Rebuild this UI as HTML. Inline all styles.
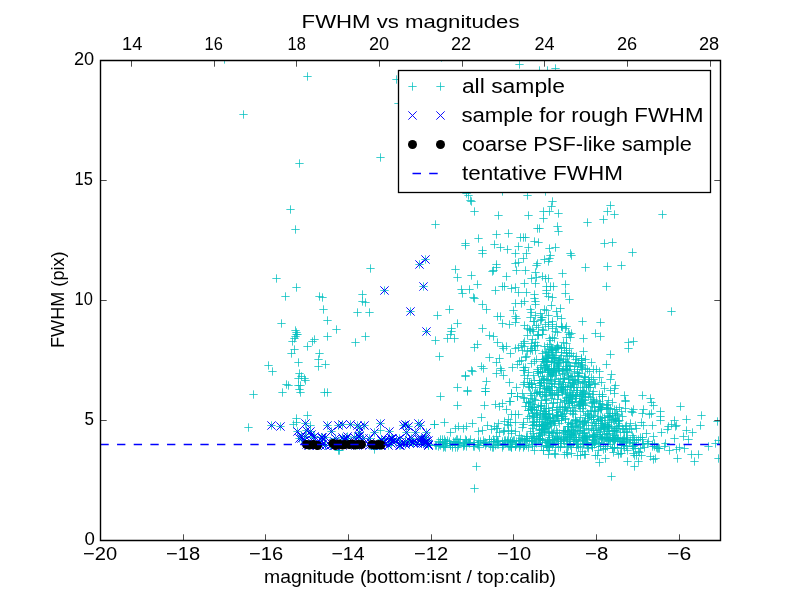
<!DOCTYPE html>
<html><head><meta charset="utf-8"><title>FWHM vs magnitudes</title><style>
html,body{margin:0;padding:0;background:#fff;width:800px;height:600px;overflow:hidden}
svg{display:block;will-change:transform}
text{font-family:"Liberation Sans",sans-serif;fill:#000}
</style></head><body>
<svg width="800" height="600" viewBox="0 0 800 600">
<rect width="800" height="600" fill="#fff"/>
<defs><clipPath id="ax"><rect x="100.5" y="60.5" width="620" height="480"/></clipPath></defs>
<g clip-path="url(#ax)">
<path d="M220.33 59.50h8.34M224.50 55.33v8.34M303.33 76.50h8.34M307.50 72.33v8.34M239.33 114.50h8.34M243.50 110.33v8.34M295.33 163.50h8.34M299.50 159.33v8.34M286.33 209.50h8.34M290.50 205.33v8.34M291.33 229.50h8.34M295.50 225.33v8.34M272.33 278.50h8.34M276.50 274.33v8.34M292.33 287.50h8.34M296.50 283.33v8.34M281.33 296.50h8.34M285.50 292.33v8.34M318.33 297.50h8.34M322.50 293.33v8.34M277.33 323.50h8.34M281.50 319.33v8.34M323.33 320.50h8.34M327.50 316.33v8.34M332.33 329.50h8.34M336.50 325.33v8.34M323.33 336.50h8.34M327.50 332.33v8.34M291.33 330.50h8.34M295.50 326.33v8.34M292.33 332.50h8.34M296.50 328.33v8.34M292.33 334.50h8.34M296.50 330.33v8.34M293.33 334.50h8.34M297.50 330.33v8.34M291.33 336.50h8.34M295.50 332.33v8.34M290.33 338.50h8.34M294.50 334.33v8.34M288.33 341.50h8.34M292.50 337.33v8.34M310.33 339.50h8.34M314.50 335.33v8.34M308.33 341.50h8.34M312.50 337.33v8.34M303.33 346.50h8.34M307.50 342.33v8.34M290.33 349.50h8.34M294.50 345.33v8.34M287.33 353.50h8.34M291.50 349.33v8.34M315.33 353.50h8.34M319.50 349.33v8.34M314.33 359.50h8.34M318.50 355.33v8.34M294.33 362.50h8.34M298.50 358.33v8.34M321.33 364.50h8.34M325.50 360.33v8.34M314.33 366.50h8.34M318.50 362.33v8.34M264.33 365.50h8.34M268.50 361.33v8.34M268.33 371.50h8.34M272.50 367.33v8.34M295.33 373.50h8.34M299.50 369.33v8.34M297.33 376.50h8.34M301.50 372.33v8.34M294.33 378.50h8.34M298.50 374.33v8.34M300.33 378.50h8.34M304.50 374.33v8.34M301.33 380.50h8.34M305.50 376.33v8.34M284.33 385.50h8.34M288.50 381.33v8.34M294.33 385.50h8.34M298.50 381.33v8.34M296.33 385.50h8.34M300.50 381.33v8.34M295.33 389.50h8.34M299.50 385.33v8.34M278.33 392.50h8.34M282.50 388.33v8.34M296.33 392.50h8.34M300.50 388.33v8.34M320.33 392.50h8.34M324.50 388.33v8.34M323.33 392.50h8.34M327.50 388.33v8.34M319.33 309.50h8.34M323.50 305.33v8.34M249.33 394.50h8.34M253.50 390.33v8.34M244.33 427.50h8.34M248.50 423.33v8.34M292.33 418.50h8.34M296.50 414.33v8.34M303.33 415.50h8.34M307.50 411.33v8.34M289.33 424.50h8.34M293.50 420.33v8.34M292.33 422.50h8.34M296.50 418.33v8.34M306.33 425.50h8.34M310.50 421.33v8.34M321.33 445.50h8.34M325.50 441.33v8.34M334.33 450.50h8.34M338.50 446.33v8.34M335.33 450.50h8.34M339.50 446.33v8.34M370.33 449.50h8.34M374.50 445.33v8.34M376.33 430.50h8.34M380.50 426.33v8.34M430.33 424.50h8.34M434.50 420.33v8.34M392.33 79.50h8.34M396.50 75.33v8.34M376.33 157.50h8.34M380.50 153.33v8.34M437.33 57.50h8.34M441.50 53.33v8.34M515.33 64.50h8.34M519.50 60.33v8.34M535.33 70.50h8.34M539.50 66.33v8.34M543.33 70.50h8.34M547.50 66.33v8.34M551.33 68.50h8.34M555.50 64.33v8.34M366.33 268.50h8.34M370.50 264.33v8.34M358.33 294.50h8.34M362.50 290.33v8.34M358.33 301.50h8.34M362.50 297.33v8.34M361.33 302.50h8.34M365.50 298.33v8.34M353.33 312.50h8.34M357.50 308.33v8.34M365.33 312.50h8.34M369.50 308.33v8.34M433.33 315.50h8.34M437.50 311.33v8.34M361.33 336.50h8.34M365.50 332.33v8.34M351.33 342.50h8.34M355.50 338.33v8.34M431.33 340.50h8.34M435.50 336.33v8.34M447.33 331.50h8.34M451.50 327.33v8.34M443.33 338.50h8.34M447.50 334.33v8.34M435.33 356.50h8.34M439.50 352.33v8.34M436.33 396.50h8.34M440.50 392.33v8.34M453.33 405.50h8.34M457.50 401.33v8.34M463.33 391.50h8.34M467.50 387.33v8.34M481.33 391.50h8.34M485.50 387.33v8.34M480.33 405.50h8.34M484.50 401.33v8.34M477.33 417.50h8.34M481.50 413.33v8.34M430.33 424.50h8.34M434.50 420.33v8.34M440.33 422.50h8.34M444.50 418.33v8.34M491.33 404.50h8.34M495.50 400.33v8.34M498.33 403.50h8.34M502.50 399.33v8.34M495.33 406.50h8.34M499.50 402.33v8.34M502.33 409.50h8.34M506.50 405.33v8.34M506.33 401.50h8.34M510.50 397.33v8.34M507.33 393.50h8.34M511.50 389.33v8.34M513.33 396.50h8.34M517.50 392.33v8.34M519.33 397.50h8.34M523.50 393.33v8.34M522.33 402.50h8.34M526.50 398.33v8.34M511.33 414.50h8.34M515.50 410.33v8.34M514.33 414.50h8.34M518.50 410.33v8.34M507.33 414.50h8.34M511.50 410.33v8.34M524.33 410.50h8.34M528.50 406.33v8.34M523.33 418.50h8.34M527.50 414.33v8.34M500.33 421.50h8.34M504.50 417.33v8.34M506.33 422.50h8.34M510.50 418.33v8.34M483.33 425.50h8.34M487.50 421.33v8.34M468.33 423.50h8.34M472.50 419.33v8.34M462.33 426.50h8.34M466.50 422.33v8.34M454.33 426.50h8.34M458.50 422.33v8.34M459.33 428.50h8.34M463.50 424.33v8.34M451.33 428.50h8.34M455.50 424.33v8.34M446.33 432.50h8.34M450.50 428.33v8.34M474.33 431.50h8.34M478.50 427.33v8.34M478.33 430.50h8.34M482.50 426.33v8.34M490.33 426.50h8.34M494.50 422.33v8.34M492.33 428.50h8.34M496.50 424.33v8.34M518.33 427.50h8.34M522.50 423.33v8.34M511.33 431.50h8.34M515.50 427.33v8.34M500.33 430.50h8.34M504.50 426.33v8.34M472.33 466.50h8.34M476.50 462.33v8.34M530.33 450.50h8.34M534.50 446.33v8.34M539.33 450.50h8.34M543.50 446.33v8.34M563.33 454.50h8.34M567.50 450.33v8.34M580.33 454.50h8.34M584.50 450.33v8.34M591.33 455.50h8.34M595.50 451.33v8.34M601.33 458.50h8.34M605.50 454.33v8.34M595.33 462.50h8.34M599.50 458.33v8.34M607.33 476.50h8.34M611.50 472.33v8.34M462.33 193.50h8.34M466.50 189.33v8.34M464.33 195.50h8.34M468.50 191.33v8.34M466.33 200.50h8.34M470.50 196.33v8.34M467.33 201.50h8.34M471.50 197.33v8.34M470.33 211.50h8.34M474.50 207.33v8.34M494.33 215.50h8.34M498.50 211.33v8.34M498.33 191.50h8.34M502.50 187.33v8.34M431.33 224.50h8.34M435.50 220.33v8.34M492.33 234.50h8.34M496.50 230.33v8.34M504.33 233.50h8.34M508.50 229.33v8.34M474.33 238.50h8.34M478.50 234.33v8.34M461.33 243.50h8.34M465.50 239.33v8.34M461.33 245.50h8.34M465.50 241.33v8.34M490.33 244.50h8.34M494.50 240.33v8.34M496.33 247.50h8.34M500.50 243.33v8.34M503.33 249.50h8.34M507.50 245.33v8.34M478.33 250.50h8.34M482.50 246.33v8.34M478.33 253.50h8.34M482.50 249.33v8.34M511.33 253.50h8.34M515.50 249.33v8.34M514.33 246.50h8.34M518.50 242.33v8.34M516.33 237.50h8.34M520.50 233.33v8.34M514.33 262.50h8.34M518.50 258.33v8.34M492.33 264.50h8.34M496.50 260.33v8.34M451.33 269.50h8.34M455.50 265.33v8.34M453.33 277.50h8.34M457.50 273.33v8.34M467.33 275.50h8.34M471.50 271.33v8.34M473.33 284.50h8.34M477.50 280.33v8.34M457.33 289.50h8.34M461.50 285.33v8.34M465.33 289.50h8.34M469.50 285.33v8.34M458.33 293.50h8.34M462.50 289.33v8.34M469.33 297.50h8.34M473.50 293.33v8.34M470.33 298.50h8.34M474.50 294.33v8.34M478.33 304.50h8.34M482.50 300.33v8.34M482.33 309.50h8.34M486.50 305.33v8.34M445.33 309.50h8.34M449.50 305.33v8.34M453.33 323.50h8.34M457.50 319.33v8.34M492.33 267.50h8.34M496.50 263.33v8.34M488.33 271.50h8.34M492.50 267.33v8.34M489.33 270.50h8.34M493.50 266.33v8.34M502.33 276.50h8.34M506.50 272.33v8.34M512.33 270.50h8.34M516.50 266.33v8.34M511.33 263.50h8.34M515.50 259.33v8.34M498.33 286.50h8.34M502.50 282.33v8.34M500.33 286.50h8.34M504.50 282.33v8.34M491.33 290.50h8.34M495.50 286.33v8.34M507.33 288.50h8.34M511.50 284.33v8.34M511.33 287.50h8.34M515.50 283.33v8.34M514.33 292.50h8.34M518.50 288.33v8.34M511.33 303.50h8.34M515.50 299.33v8.34M509.33 310.50h8.34M513.50 306.33v8.34M493.33 316.50h8.34M497.50 312.33v8.34M496.33 316.50h8.34M500.50 312.33v8.34M498.33 323.50h8.34M502.50 319.33v8.34M505.33 324.50h8.34M509.50 320.33v8.34M511.33 316.50h8.34M515.50 312.33v8.34M511.33 322.50h8.34M515.50 318.33v8.34M512.33 318.50h8.34M516.50 314.33v8.34M478.33 328.50h8.34M482.50 324.33v8.34M447.33 328.50h8.34M451.50 324.33v8.34M446.33 334.50h8.34M450.50 330.33v8.34M450.33 338.50h8.34M454.50 334.33v8.34M485.33 335.50h8.34M489.50 331.33v8.34M489.33 336.50h8.34M493.50 332.33v8.34M493.33 342.50h8.34M497.50 338.33v8.34M498.33 346.50h8.34M502.50 342.33v8.34M502.33 346.50h8.34M506.50 342.33v8.34M499.33 348.50h8.34M503.50 344.33v8.34M506.33 353.50h8.34M510.50 349.33v8.34M511.33 348.50h8.34M515.50 344.33v8.34M514.33 347.50h8.34M518.50 343.33v8.34M473.33 344.50h8.34M477.50 340.33v8.34M470.33 347.50h8.34M474.50 343.33v8.34M485.33 357.50h8.34M489.50 353.33v8.34M495.33 358.50h8.34M499.50 354.33v8.34M492.33 362.50h8.34M496.50 358.33v8.34M477.33 366.50h8.34M481.50 362.33v8.34M479.33 368.50h8.34M483.50 364.33v8.34M467.33 370.50h8.34M471.50 366.33v8.34M468.33 371.50h8.34M472.50 367.33v8.34M461.33 375.50h8.34M465.50 371.33v8.34M461.33 376.50h8.34M465.50 372.33v8.34M496.33 368.50h8.34M500.50 364.33v8.34M497.33 370.50h8.34M501.50 366.33v8.34M492.33 373.50h8.34M496.50 369.33v8.34M499.33 375.50h8.34M503.50 371.33v8.34M508.33 367.50h8.34M512.50 363.33v8.34M513.33 364.50h8.34M517.50 360.33v8.34M515.33 361.50h8.34M519.50 357.33v8.34M482.33 381.50h8.34M486.50 377.33v8.34M481.33 388.50h8.34M485.50 384.33v8.34M481.33 391.50h8.34M485.50 387.33v8.34M453.33 387.50h8.34M457.50 383.33v8.34M463.33 390.50h8.34M467.50 386.33v8.34M505.33 382.50h8.34M509.50 378.33v8.34M512.33 387.50h8.34M516.50 383.33v8.34M507.33 393.50h8.34M511.50 389.33v8.34M513.33 396.50h8.34M517.50 392.33v8.34M676.33 406.50h8.34M680.50 402.33v8.34M697.33 415.50h8.34M701.50 411.33v8.34M696.33 425.50h8.34M700.50 421.33v8.34M682.33 419.50h8.34M686.50 415.33v8.34M682.33 430.50h8.34M686.50 426.33v8.34M688.33 432.50h8.34M692.50 428.33v8.34M679.33 436.50h8.34M683.50 432.33v8.34M684.33 439.50h8.34M688.50 435.33v8.34M670.33 420.50h8.34M674.50 416.33v8.34M672.33 425.50h8.34M676.50 421.33v8.34M667.33 424.50h8.34M671.50 420.33v8.34M671.33 426.50h8.34M675.50 422.33v8.34M664.33 426.50h8.34M668.50 422.33v8.34M663.33 429.50h8.34M667.50 425.33v8.34M670.33 438.50h8.34M674.50 434.33v8.34M657.33 432.50h8.34M661.50 428.33v8.34M661.33 443.50h8.34M665.50 439.33v8.34M660.33 446.50h8.34M664.50 442.33v8.34M655.33 448.50h8.34M659.50 444.33v8.34M665.33 450.50h8.34M669.50 446.33v8.34M672.33 449.50h8.34M676.50 445.33v8.34M675.33 447.50h8.34M679.50 443.33v8.34M680.33 448.50h8.34M684.50 444.33v8.34M673.33 458.50h8.34M677.50 454.33v8.34M687.33 454.50h8.34M691.50 450.33v8.34M694.33 454.50h8.34M698.50 450.33v8.34M690.33 461.50h8.34M694.50 457.33v8.34M704.33 446.50h8.34M708.50 442.33v8.34M711.33 443.50h8.34M715.50 439.33v8.34M713.33 421.50h8.34M717.50 417.33v8.34M714.33 440.50h8.34M718.50 436.33v8.34M714.33 458.50h8.34M718.50 454.33v8.34M649.33 459.50h8.34M653.50 455.33v8.34M651.33 458.50h8.34M655.50 454.33v8.34M646.33 456.50h8.34M650.50 452.33v8.34M634.33 461.50h8.34M638.50 457.33v8.34M623.33 461.50h8.34M627.50 457.33v8.34M630.33 466.50h8.34M634.50 462.33v8.34M617.33 453.50h8.34M621.50 449.33v8.34M632.33 455.50h8.34M636.50 451.33v8.34M637.33 455.50h8.34M641.50 451.33v8.34M648.33 425.50h8.34M652.50 421.33v8.34M647.33 413.50h8.34M651.50 409.33v8.34M656.33 416.50h8.34M660.50 412.33v8.34M656.33 420.50h8.34M660.50 416.33v8.34M656.33 411.50h8.34M660.50 407.33v8.34M649.33 405.50h8.34M653.50 401.33v8.34M647.33 402.50h8.34M651.50 398.33v8.34M639.33 409.50h8.34M643.50 405.33v8.34M638.33 413.50h8.34M642.50 409.33v8.34M629.33 409.50h8.34M633.50 405.33v8.34M627.33 411.50h8.34M631.50 407.33v8.34M639.33 425.50h8.34M643.50 421.33v8.34M637.33 422.50h8.34M641.50 418.33v8.34M642.33 433.50h8.34M646.50 429.33v8.34M649.33 436.50h8.34M653.50 432.33v8.34M638.33 437.50h8.34M642.50 433.33v8.34M644.33 441.50h8.34M648.50 437.33v8.34M634.33 439.50h8.34M638.50 435.33v8.34M628.33 443.50h8.34M632.50 439.33v8.34M631.33 425.50h8.34M635.50 421.33v8.34M621.33 401.50h8.34M625.50 397.33v8.34M621.33 408.50h8.34M625.50 404.33v8.34M624.33 342.50h8.34M628.50 338.33v8.34M629.33 341.50h8.34M633.50 337.33v8.34M624.33 348.50h8.34M628.50 344.33v8.34M620.33 395.50h8.34M624.50 391.33v8.34M638.33 395.50h8.34M642.50 391.33v8.34M646.33 398.50h8.34M650.50 394.33v8.34M606.33 205.50h8.34M610.50 201.33v8.34M603.33 211.50h8.34M607.50 207.33v8.34M610.33 214.50h8.34M614.50 210.33v8.34M599.33 219.50h8.34M603.50 215.33v8.34M658.33 214.50h8.34M662.50 210.33v8.34M600.33 243.50h8.34M604.50 239.33v8.34M608.33 242.50h8.34M612.50 238.33v8.34M628.33 252.50h8.34M632.50 248.33v8.34M603.33 266.50h8.34M607.50 262.33v8.34M617.33 265.50h8.34M621.50 261.33v8.34M602.33 286.50h8.34M606.50 282.33v8.34M667.33 311.50h8.34M671.50 307.33v8.34M523.33 195.50h8.34M527.50 191.33v8.34M541.33 191.50h8.34M545.50 187.33v8.34M548.33 201.50h8.34M552.50 197.33v8.34M547.33 206.50h8.34M551.50 202.33v8.34M539.33 211.50h8.34M543.50 207.33v8.34M545.33 211.50h8.34M549.50 207.33v8.34M554.33 213.50h8.34M558.50 209.33v8.34M524.33 215.50h8.34M528.50 211.33v8.34M539.33 218.50h8.34M543.50 214.33v8.34M533.33 228.50h8.34M537.50 224.33v8.34M535.33 228.50h8.34M539.50 224.33v8.34M553.33 226.50h8.34M557.50 222.33v8.34M554.33 231.50h8.34M558.50 227.33v8.34M583.33 222.50h8.34M587.50 218.33v8.34M519.33 237.50h8.34M523.50 233.33v8.34M521.33 237.50h8.34M525.50 233.33v8.34M530.33 241.50h8.34M534.50 237.33v8.34M534.33 242.50h8.34M538.50 238.33v8.34M524.33 247.50h8.34M528.50 243.33v8.34M522.33 253.50h8.34M526.50 249.33v8.34M519.33 258.50h8.34M523.50 254.33v8.34M545.33 248.50h8.34M549.50 244.33v8.34M551.33 247.50h8.34M555.50 243.33v8.34M546.33 255.50h8.34M550.50 251.33v8.34M545.33 258.50h8.34M549.50 254.33v8.34M540.33 259.50h8.34M544.50 255.33v8.34M544.33 261.50h8.34M548.50 257.33v8.34M533.33 263.50h8.34M537.50 259.33v8.34M566.33 253.50h8.34M570.50 249.33v8.34M567.33 255.50h8.34M571.50 251.33v8.34M581.33 267.50h8.34M585.50 263.33v8.34M558.33 273.50h8.34M562.50 269.33v8.34M561.33 284.50h8.34M565.50 280.33v8.34M561.33 293.50h8.34M565.50 289.33v8.34M565.33 299.50h8.34M569.50 295.33v8.34M578.33 321.50h8.34M582.50 317.33v8.34M596.33 322.50h8.34M600.50 318.33v8.34M591.33 333.50h8.34M595.50 329.33v8.34M521.33 270.50h8.34M525.50 266.33v8.34M532.33 265.50h8.34M536.50 261.33v8.34M531.33 272.50h8.34M535.50 268.33v8.34M527.33 278.50h8.34M531.50 274.33v8.34M532.33 277.50h8.34M536.50 273.33v8.34M538.33 276.50h8.34M542.50 272.33v8.34M541.33 278.50h8.34M545.50 274.33v8.34M544.33 278.50h8.34M548.50 274.33v8.34M531.33 283.50h8.34M535.50 279.33v8.34M520.33 283.50h8.34M524.50 279.33v8.34M542.33 286.50h8.34M546.50 282.33v8.34M546.33 286.50h8.34M550.50 282.33v8.34M549.33 286.50h8.34M553.50 282.33v8.34M542.33 290.50h8.34M546.50 286.33v8.34M542.33 293.50h8.34M546.50 289.33v8.34M522.33 292.50h8.34M526.50 288.33v8.34M530.33 294.50h8.34M534.50 290.33v8.34M530.33 298.50h8.34M534.50 294.33v8.34M548.33 297.50h8.34M552.50 293.33v8.34M544.33 296.50h8.34M548.50 292.33v8.34M520.33 301.50h8.34M524.50 297.33v8.34M517.33 303.50h8.34M521.50 299.33v8.34M531.33 301.50h8.34M535.50 297.33v8.34M531.33 304.50h8.34M535.50 300.33v8.34M547.33 305.50h8.34M551.50 301.33v8.34M526.33 309.50h8.34M530.50 305.33v8.34M527.33 312.50h8.34M531.50 308.33v8.34M540.33 309.50h8.34M544.50 305.33v8.34M542.33 310.50h8.34M546.50 306.33v8.34M556.33 308.50h8.34M560.50 304.33v8.34M552.33 311.50h8.34M556.50 307.33v8.34M531.33 315.50h8.34M535.50 311.33v8.34M526.33 317.50h8.34M530.50 313.33v8.34M536.33 313.50h8.34M540.50 309.33v8.34M537.33 317.50h8.34M541.50 313.33v8.34M536.33 320.50h8.34M540.50 316.33v8.34M544.33 315.50h8.34M548.50 311.33v8.34M553.33 316.50h8.34M557.50 312.33v8.34M557.33 318.50h8.34M561.50 314.33v8.34M548.33 321.50h8.34M552.50 317.33v8.34M520.33 325.50h8.34M524.50 321.33v8.34M534.33 327.50h8.34M538.50 323.33v8.34M529.33 331.50h8.34M533.50 327.33v8.34M544.33 326.50h8.34M548.50 322.33v8.34M548.33 328.50h8.34M552.50 324.33v8.34M558.33 327.50h8.34M562.50 323.33v8.34M561.33 328.50h8.34M565.50 324.33v8.34M551.33 331.50h8.34M555.50 327.33v8.34M564.33 332.50h8.34M568.50 328.33v8.34M553.33 332.50h8.34M557.50 328.33v8.34M596.33 336.50h8.34M600.50 332.33v8.34M579.33 338.50h8.34M583.50 334.33v8.34M606.33 354.50h8.34M610.50 350.33v8.34M579.33 351.50h8.34M583.50 347.33v8.34M577.33 358.50h8.34M581.50 354.33v8.34M587.33 362.50h8.34M591.50 358.33v8.34M602.33 364.50h8.34M606.50 360.33v8.34M581.33 368.50h8.34M585.50 364.33v8.34M583.33 369.50h8.34M587.50 365.33v8.34M589.33 369.50h8.34M593.50 365.33v8.34M592.33 369.50h8.34M596.50 365.33v8.34M595.33 371.50h8.34M599.50 367.33v8.34M607.33 374.50h8.34M611.50 370.33v8.34M606.33 379.50h8.34M610.50 375.33v8.34M587.33 377.50h8.34M591.50 373.33v8.34M595.33 377.50h8.34M599.50 373.33v8.34M597.33 382.50h8.34M601.50 378.33v8.34M611.33 385.50h8.34M615.50 381.33v8.34M610.33 388.50h8.34M614.50 384.33v8.34M591.33 384.50h8.34M595.50 380.33v8.34M585.33 382.50h8.34M589.50 378.33v8.34M600.33 388.50h8.34M604.50 384.33v8.34M610.33 393.50h8.34M614.50 389.33v8.34M621.33 400.50h8.34M625.50 396.33v8.34M608.33 402.50h8.34M612.50 398.33v8.34M615.33 407.50h8.34M619.50 403.33v8.34M610.33 409.50h8.34M614.50 405.33v8.34M628.33 412.50h8.34M632.50 408.33v8.34M645.33 414.50h8.34M649.50 410.33v8.34M626.33 423.50h8.34M630.50 419.33v8.34M606.33 390.50h8.34M610.50 386.33v8.34M604.33 400.50h8.34M608.50 396.33v8.34M505.33 401.50h8.34M509.50 397.33v8.34M525.33 382.50h8.34M529.50 378.33v8.34M525.33 387.50h8.34M529.50 383.33v8.34M527.33 384.50h8.34M531.50 380.33v8.34M511.33 422.50h8.34M515.50 418.33v8.34M503.33 424.50h8.34M507.50 420.33v8.34M528.33 425.50h8.34M532.50 421.33v8.34M520.33 346.50h8.34M524.50 342.33v8.34M523.33 351.50h8.34M527.50 347.33v8.34M526.33 350.50h8.34M530.50 346.33v8.34M517.33 360.50h8.34M521.50 356.33v8.34M521.33 367.50h8.34M525.50 363.33v8.34M519.33 370.50h8.34M523.50 366.33v8.34M527.33 363.50h8.34M531.50 359.33v8.34M523.33 378.50h8.34M527.50 374.33v8.34M534.33 335.50h8.34M538.50 331.33v8.34M538.33 334.50h8.34M542.50 330.33v8.34M531.33 342.50h8.34M535.50 338.33v8.34M533.33 345.50h8.34M537.50 341.33v8.34M546.33 340.50h8.34M550.50 336.33v8.34M470.33 488.50h8.34M474.50 484.33v8.34M394.33 103.50h8.34M398.50 99.33v8.34M315.33 296.50h8.34M319.50 292.33v8.34M282.33 384.50h8.34M286.50 380.33v8.34M559.33 359.50h8.34M563.50 355.33v8.34M585.33 381.50h8.34M589.50 377.33v8.34M531.33 387.50h8.34M535.50 383.33v8.34M571.33 426.50h8.34M575.50 422.33v8.34M588.33 436.50h8.34M592.50 432.33v8.34M539.33 359.50h8.34M543.50 355.33v8.34M542.33 400.50h8.34M546.50 396.33v8.34M556.33 402.50h8.34M560.50 398.33v8.34M608.33 415.50h8.34M612.50 411.33v8.34M580.33 428.50h8.34M584.50 424.33v8.34M571.33 420.50h8.34M575.50 416.33v8.34M530.33 407.50h8.34M534.50 403.33v8.34M595.33 401.50h8.34M599.50 397.33v8.34M608.33 437.50h8.34M612.50 433.33v8.34M526.33 408.50h8.34M530.50 404.33v8.34M569.33 410.50h8.34M573.50 406.33v8.34M548.33 357.50h8.34M552.50 353.33v8.34M534.33 371.50h8.34M538.50 367.33v8.34M528.33 387.50h8.34M532.50 383.33v8.34M610.33 430.50h8.34M614.50 426.33v8.34M564.33 430.50h8.34M568.50 426.33v8.34M544.33 369.50h8.34M548.50 365.33v8.34M568.33 399.50h8.34M572.50 395.33v8.34M579.33 404.50h8.34M583.50 400.33v8.34M614.33 423.50h8.34M618.50 419.33v8.34M537.33 406.50h8.34M541.50 402.33v8.34M547.33 361.50h8.34M551.50 357.33v8.34M542.33 380.50h8.34M546.50 376.33v8.34M551.33 379.50h8.34M555.50 375.33v8.34M610.33 441.50h8.34M614.50 437.33v8.34M562.33 369.50h8.34M566.50 365.33v8.34M583.33 437.50h8.34M587.50 433.33v8.34M555.33 383.50h8.34M559.50 379.33v8.34M580.33 421.50h8.34M584.50 417.33v8.34M613.33 437.50h8.34M617.50 433.33v8.34M611.33 418.50h8.34M615.50 414.33v8.34M565.33 348.50h8.34M569.50 344.33v8.34M556.33 411.50h8.34M560.50 407.33v8.34M626.33 440.50h8.34M630.50 436.33v8.34M549.33 368.50h8.34M553.50 364.33v8.34M592.33 430.50h8.34M596.50 426.33v8.34M597.33 423.50h8.34M601.50 419.33v8.34M541.33 424.50h8.34M545.50 420.33v8.34M567.33 435.50h8.34M571.50 431.33v8.34M543.33 357.50h8.34M547.50 353.33v8.34M545.33 424.50h8.34M549.50 420.33v8.34M562.33 398.50h8.34M566.50 394.33v8.34M575.33 437.50h8.34M579.50 433.33v8.34M552.33 375.50h8.34M556.50 371.33v8.34M557.33 388.50h8.34M561.50 384.33v8.34M557.33 387.50h8.34M561.50 383.33v8.34M566.33 434.50h8.34M570.50 430.33v8.34M577.33 362.50h8.34M581.50 358.33v8.34M543.33 388.50h8.34M547.50 384.33v8.34M554.33 394.50h8.34M558.50 390.33v8.34M537.33 400.50h8.34M541.50 396.33v8.34M587.33 417.50h8.34M591.50 413.33v8.34M585.33 393.50h8.34M589.50 389.33v8.34M565.33 397.50h8.34M569.50 393.33v8.34M600.33 429.50h8.34M604.50 425.33v8.34M585.33 435.50h8.34M589.50 431.33v8.34M540.33 388.50h8.34M544.50 384.33v8.34M534.33 406.50h8.34M538.50 402.33v8.34M541.33 413.50h8.34M545.50 409.33v8.34M619.33 443.50h8.34M623.50 439.33v8.34M573.33 392.50h8.34M577.50 388.33v8.34M540.33 386.50h8.34M544.50 382.33v8.34M546.33 375.50h8.34M550.50 371.33v8.34M586.33 387.50h8.34M590.50 383.33v8.34M598.33 396.50h8.34M602.50 392.33v8.34M609.33 440.50h8.34M613.50 436.33v8.34M529.33 421.50h8.34M533.50 417.33v8.34M570.33 432.50h8.34M574.50 428.33v8.34M537.33 432.50h8.34M541.50 428.33v8.34M529.33 433.50h8.34M533.50 429.33v8.34M540.33 429.50h8.34M544.50 425.33v8.34M566.33 376.50h8.34M570.50 372.33v8.34M551.33 357.50h8.34M555.50 353.33v8.34M539.33 361.50h8.34M543.50 357.33v8.34M558.33 373.50h8.34M562.50 369.33v8.34M577.33 362.50h8.34M581.50 358.33v8.34M547.33 390.50h8.34M551.50 386.33v8.34M574.33 427.50h8.34M578.50 423.33v8.34M594.33 443.50h8.34M598.50 439.33v8.34M597.33 407.50h8.34M601.50 403.33v8.34M533.33 417.50h8.34M537.50 413.33v8.34M537.33 424.50h8.34M541.50 420.33v8.34M554.33 370.50h8.34M558.50 366.33v8.34M541.33 392.50h8.34M545.50 388.33v8.34M550.33 440.50h8.34M554.50 436.33v8.34M576.33 395.50h8.34M580.50 391.33v8.34M535.33 383.50h8.34M539.50 379.33v8.34M554.33 366.50h8.34M558.50 362.33v8.34M602.33 405.50h8.34M606.50 401.33v8.34M568.33 376.50h8.34M572.50 372.33v8.34M606.33 408.50h8.34M610.50 404.33v8.34M604.33 425.50h8.34M608.50 421.33v8.34M580.33 422.50h8.34M584.50 418.33v8.34M584.33 429.50h8.34M588.50 425.33v8.34M551.33 349.50h8.34M555.50 345.33v8.34M532.33 425.50h8.34M536.50 421.33v8.34M590.33 411.50h8.34M594.50 407.33v8.34M605.33 417.50h8.34M609.50 413.33v8.34M533.33 369.50h8.34M537.50 365.33v8.34M600.33 439.50h8.34M604.50 435.33v8.34M576.33 408.50h8.34M580.50 404.33v8.34M541.33 368.50h8.34M545.50 364.33v8.34M594.33 410.50h8.34M598.50 406.33v8.34M578.33 390.50h8.34M582.50 386.33v8.34M609.33 439.50h8.34M613.50 435.33v8.34M548.33 439.50h8.34M552.50 435.33v8.34M542.33 395.50h8.34M546.50 391.33v8.34M549.33 432.50h8.34M553.50 428.33v8.34M574.33 375.50h8.34M578.50 371.33v8.34M563.33 426.50h8.34M567.50 422.33v8.34M568.33 383.50h8.34M572.50 379.33v8.34M563.33 387.50h8.34M567.50 383.33v8.34M535.33 430.50h8.34M539.50 426.33v8.34M549.33 370.50h8.34M553.50 366.33v8.34M568.33 435.50h8.34M572.50 431.33v8.34M595.33 432.50h8.34M599.50 428.33v8.34M604.33 408.50h8.34M608.50 404.33v8.34M573.33 381.50h8.34M577.50 377.33v8.34M584.33 384.50h8.34M588.50 380.33v8.34M545.33 432.50h8.34M549.50 428.33v8.34M618.33 441.50h8.34M622.50 437.33v8.34M545.33 354.50h8.34M549.50 350.33v8.34M545.33 368.50h8.34M549.50 364.33v8.34M567.33 396.50h8.34M571.50 392.33v8.34M533.33 371.50h8.34M537.50 367.33v8.34M579.33 405.50h8.34M583.50 401.33v8.34M551.33 370.50h8.34M555.50 366.33v8.34M532.33 412.50h8.34M536.50 408.33v8.34M569.33 431.50h8.34M573.50 427.33v8.34M532.33 359.50h8.34M536.50 355.33v8.34M589.33 419.50h8.34M593.50 415.33v8.34M530.33 424.50h8.34M534.50 420.33v8.34M536.33 367.50h8.34M540.50 363.33v8.34M578.33 402.50h8.34M582.50 398.33v8.34M561.33 389.50h8.34M565.50 385.33v8.34M554.33 368.50h8.34M558.50 364.33v8.34M553.33 347.50h8.34M557.50 343.33v8.34M566.33 366.50h8.34M570.50 362.33v8.34M547.33 349.50h8.34M551.50 345.33v8.34M606.33 416.50h8.34M610.50 412.33v8.34M546.33 423.50h8.34M550.50 419.33v8.34M578.33 365.50h8.34M582.50 361.33v8.34M597.33 438.50h8.34M601.50 434.33v8.34M548.33 439.50h8.34M552.50 435.33v8.34M537.33 380.50h8.34M541.50 376.33v8.34M604.33 441.50h8.34M608.50 437.33v8.34M545.33 435.50h8.34M549.50 431.33v8.34M564.33 377.50h8.34M568.50 373.33v8.34M556.33 378.50h8.34M560.50 374.33v8.34M564.33 422.50h8.34M568.50 418.33v8.34M526.33 393.50h8.34M530.50 389.33v8.34M546.33 380.50h8.34M550.50 376.33v8.34M568.33 423.50h8.34M572.50 419.33v8.34M602.33 433.50h8.34M606.50 429.33v8.34M552.33 415.50h8.34M556.50 411.33v8.34M530.33 417.50h8.34M534.50 413.33v8.34M557.33 389.50h8.34M561.50 385.33v8.34M563.33 370.50h8.34M567.50 366.33v8.34M611.33 413.50h8.34M615.50 409.33v8.34M559.33 379.50h8.34M563.50 375.33v8.34M546.33 418.50h8.34M550.50 414.33v8.34M525.33 403.50h8.34M529.50 399.33v8.34M617.33 441.50h8.34M621.50 437.33v8.34M535.33 391.50h8.34M539.50 387.33v8.34M547.33 383.50h8.34M551.50 379.33v8.34M603.33 426.50h8.34M607.50 422.33v8.34M584.33 379.50h8.34M588.50 375.33v8.34M555.33 371.50h8.34M559.50 367.33v8.34M565.33 441.50h8.34M569.50 437.33v8.34M578.33 421.50h8.34M582.50 417.33v8.34M542.33 362.50h8.34M546.50 358.33v8.34M554.33 420.50h8.34M558.50 416.33v8.34M588.33 406.50h8.34M592.50 402.33v8.34M540.33 367.50h8.34M544.50 363.33v8.34M559.33 362.50h8.34M563.50 358.33v8.34M566.33 397.50h8.34M570.50 393.33v8.34M540.33 413.50h8.34M544.50 409.33v8.34M556.33 439.50h8.34M560.50 435.33v8.34M569.33 380.50h8.34M573.50 376.33v8.34M563.33 362.50h8.34M567.50 358.33v8.34M564.33 426.50h8.34M568.50 422.33v8.34M577.33 360.50h8.34M581.50 356.33v8.34M596.33 434.50h8.34M600.50 430.33v8.34M566.33 395.50h8.34M570.50 391.33v8.34M582.33 436.50h8.34M586.50 432.33v8.34M610.33 439.50h8.34M614.50 435.33v8.34M623.33 439.50h8.34M627.50 435.33v8.34M568.33 426.50h8.34M572.50 422.33v8.34M545.33 383.50h8.34M549.50 379.33v8.34M537.33 365.50h8.34M541.50 361.33v8.34M530.33 399.50h8.34M534.50 395.33v8.34M586.33 397.50h8.34M590.50 393.33v8.34M565.33 402.50h8.34M569.50 398.33v8.34M576.33 387.50h8.34M580.50 383.33v8.34M577.33 364.50h8.34M581.50 360.33v8.34M572.33 362.50h8.34M576.50 358.33v8.34M542.33 387.50h8.34M546.50 383.33v8.34M601.33 420.50h8.34M605.50 416.33v8.34M579.33 381.50h8.34M583.50 377.33v8.34M614.33 438.50h8.34M618.50 434.33v8.34M538.33 440.50h8.34M542.50 436.33v8.34M610.33 435.50h8.34M614.50 431.33v8.34M578.33 435.50h8.34M582.50 431.33v8.34M580.33 376.50h8.34M584.50 372.33v8.34M540.33 432.50h8.34M544.50 428.33v8.34M546.33 422.50h8.34M550.50 418.33v8.34M593.33 434.50h8.34M597.50 430.33v8.34M561.33 419.50h8.34M565.50 415.33v8.34M588.33 439.50h8.34M592.50 435.33v8.34M580.33 432.50h8.34M584.50 428.33v8.34M537.33 382.50h8.34M541.50 378.33v8.34M595.33 394.50h8.34M599.50 390.33v8.34M554.33 360.50h8.34M558.50 356.33v8.34M614.33 421.50h8.34M618.50 417.33v8.34M524.33 406.50h8.34M528.50 402.33v8.34M555.33 433.50h8.34M559.50 429.33v8.34M573.33 369.50h8.34M577.50 365.33v8.34M528.33 398.50h8.34M532.50 394.33v8.34M542.33 403.50h8.34M546.50 399.33v8.34M564.33 375.50h8.34M568.50 371.33v8.34M613.33 414.50h8.34M617.50 410.33v8.34M549.33 355.50h8.34M553.50 351.33v8.34M558.33 414.50h8.34M562.50 410.33v8.34M584.33 385.50h8.34M588.50 381.33v8.34M555.33 407.50h8.34M559.50 403.33v8.34M552.33 363.50h8.34M556.50 359.33v8.34M547.33 431.50h8.34M551.50 427.33v8.34M589.33 440.50h8.34M593.50 436.33v8.34M594.33 429.50h8.34M598.50 425.33v8.34M553.33 407.50h8.34M557.50 403.33v8.34M536.33 435.50h8.34M540.50 431.33v8.34M596.33 403.50h8.34M600.50 399.33v8.34M529.33 404.50h8.34M533.50 400.33v8.34M616.33 432.50h8.34M620.50 428.33v8.34M622.33 437.50h8.34M626.50 433.33v8.34M610.33 421.50h8.34M614.50 417.33v8.34M561.33 386.50h8.34M565.50 382.33v8.34M553.33 415.50h8.34M557.50 411.33v8.34M524.33 386.50h8.34M528.50 382.33v8.34M560.33 413.50h8.34M564.50 409.33v8.34M608.33 439.50h8.34M612.50 435.33v8.34M578.33 424.50h8.34M582.50 420.33v8.34M561.33 430.50h8.34M565.50 426.33v8.34M554.33 363.50h8.34M558.50 359.33v8.34M542.33 408.50h8.34M546.50 404.33v8.34M596.33 420.50h8.34M600.50 416.33v8.34M568.33 382.50h8.34M572.50 378.33v8.34M550.33 369.50h8.34M554.50 365.33v8.34M565.33 432.50h8.34M569.50 428.33v8.34M581.33 415.50h8.34M585.50 411.33v8.34M565.33 379.50h8.34M569.50 375.33v8.34M596.33 418.50h8.34M600.50 414.33v8.34M540.33 388.50h8.34M544.50 384.33v8.34M544.33 370.50h8.34M548.50 366.33v8.34M542.33 361.50h8.34M546.50 357.33v8.34M564.33 362.50h8.34M568.50 358.33v8.34M538.33 439.50h8.34M542.50 435.33v8.34M548.33 407.50h8.34M552.50 403.33v8.34M562.33 350.50h8.34M566.50 346.33v8.34M536.33 405.50h8.34M540.50 401.33v8.34M583.33 418.50h8.34M587.50 414.33v8.34M601.33 427.50h8.34M605.50 423.33v8.34M561.33 407.50h8.34M565.50 403.33v8.34M605.33 413.50h8.34M609.50 409.33v8.34M567.33 387.50h8.34M571.50 383.33v8.34M598.33 437.50h8.34M602.50 433.33v8.34M580.33 440.50h8.34M584.50 436.33v8.34M546.33 420.50h8.34M550.50 416.33v8.34M531.33 400.50h8.34M535.50 396.33v8.34M581.33 405.50h8.34M585.50 401.33v8.34M569.33 439.50h8.34M573.50 435.33v8.34M573.33 422.50h8.34M577.50 418.33v8.34M562.33 352.50h8.34M566.50 348.33v8.34M568.33 413.50h8.34M572.50 409.33v8.34M552.33 416.50h8.34M556.50 412.33v8.34M547.33 423.50h8.34M551.50 419.33v8.34M541.33 417.50h8.34M545.50 413.33v8.34M575.33 404.50h8.34M579.50 400.33v8.34M565.33 403.50h8.34M569.50 399.33v8.34M573.33 373.50h8.34M577.50 369.33v8.34M563.33 370.50h8.34M567.50 366.33v8.34M525.33 416.50h8.34M529.50 412.33v8.34M553.33 392.50h8.34M557.50 388.33v8.34M627.33 429.50h8.34M631.50 425.33v8.34M540.33 425.50h8.34M544.50 421.33v8.34M549.33 421.50h8.34M553.50 417.33v8.34M539.33 429.50h8.34M543.50 425.33v8.34M596.33 428.50h8.34M600.50 424.33v8.34M541.33 411.50h8.34M545.50 407.33v8.34M569.33 430.50h8.34M573.50 426.33v8.34M549.33 358.50h8.34M553.50 354.33v8.34M571.33 359.50h8.34M575.50 355.33v8.34M587.33 428.50h8.34M591.50 424.33v8.34M571.33 396.50h8.34M575.50 392.33v8.34M566.33 385.50h8.34M570.50 381.33v8.34M596.33 407.50h8.34M600.50 403.33v8.34M592.33 439.50h8.34M596.50 435.33v8.34M579.33 391.50h8.34M583.50 387.33v8.34M597.33 408.50h8.34M601.50 404.33v8.34M559.33 390.50h8.34M563.50 386.33v8.34M544.33 388.50h8.34M548.50 384.33v8.34M570.33 371.50h8.34M574.50 367.33v8.34M592.33 423.50h8.34M596.50 419.33v8.34M553.33 399.50h8.34M557.50 395.33v8.34M533.33 413.50h8.34M537.50 409.33v8.34M597.33 420.50h8.34M601.50 416.33v8.34M588.33 403.50h8.34M592.50 399.33v8.34M545.33 344.50h8.34M549.50 340.33v8.34M609.33 420.50h8.34M613.50 416.33v8.34M556.33 387.50h8.34M560.50 383.33v8.34M596.33 436.50h8.34M600.50 432.33v8.34M590.33 435.50h8.34M594.50 431.33v8.34M567.33 353.50h8.34M571.50 349.33v8.34M532.33 414.50h8.34M536.50 410.33v8.34M535.33 429.50h8.34M539.50 425.33v8.34M529.33 416.50h8.34M533.50 412.33v8.34M584.33 414.50h8.34M588.50 410.33v8.34M552.33 438.50h8.34M556.50 434.33v8.34M528.33 407.50h8.34M532.50 403.33v8.34M561.33 418.50h8.34M565.50 414.33v8.34M560.33 401.50h8.34M564.50 397.33v8.34M538.33 424.50h8.34M542.50 420.33v8.34M571.33 420.50h8.34M575.50 416.33v8.34M597.33 427.50h8.34M601.50 423.33v8.34M567.33 433.50h8.34M571.50 429.33v8.34M589.33 430.50h8.34M593.50 426.33v8.34M572.33 398.50h8.34M576.50 394.33v8.34M532.33 422.50h8.34M536.50 418.33v8.34M611.33 419.50h8.34M615.50 415.33v8.34M557.33 352.50h8.34M561.50 348.33v8.34M548.33 417.50h8.34M552.50 413.33v8.34M587.33 411.50h8.34M591.50 407.33v8.34M553.33 415.50h8.34M557.50 411.33v8.34M535.33 421.50h8.34M539.50 417.33v8.34M589.33 430.50h8.34M593.50 426.33v8.34M576.33 403.50h8.34M580.50 399.33v8.34M542.33 414.50h8.34M546.50 410.33v8.34M568.33 395.50h8.34M572.50 391.33v8.34M537.33 405.50h8.34M541.50 401.33v8.34M611.33 438.50h8.34M615.50 434.33v8.34M547.33 362.50h8.34M551.50 358.33v8.34M576.33 430.50h8.34M580.50 426.33v8.34M538.33 440.50h8.34M542.50 436.33v8.34M591.33 436.50h8.34M595.50 432.33v8.34M581.33 359.50h8.34M585.50 355.33v8.34M548.33 350.50h8.34M552.50 346.33v8.34M620.33 432.50h8.34M624.50 428.33v8.34M602.33 409.50h8.34M606.50 405.33v8.34M603.33 434.50h8.34M607.50 430.33v8.34M589.33 419.50h8.34M593.50 415.33v8.34M550.33 357.50h8.34M554.50 353.33v8.34M550.33 358.50h8.34M554.50 354.33v8.34M553.33 432.50h8.34M557.50 428.33v8.34M546.33 390.50h8.34M550.50 386.33v8.34M574.33 376.50h8.34M578.50 372.33v8.34M548.33 348.50h8.34M552.50 344.33v8.34M540.33 431.50h8.34M544.50 427.33v8.34M543.33 369.50h8.34M547.50 365.33v8.34M540.33 396.50h8.34M544.50 392.33v8.34M543.33 441.50h8.34M547.50 437.33v8.34M575.33 373.50h8.34M579.50 369.33v8.34M570.33 441.50h8.34M574.50 437.33v8.34M536.33 372.50h8.34M540.50 368.33v8.34M547.33 386.50h8.34M551.50 382.33v8.34M544.33 418.50h8.34M548.50 414.33v8.34M588.33 394.50h8.34M592.50 390.33v8.34M591.33 411.50h8.34M595.50 407.33v8.34M546.33 349.50h8.34M550.50 345.33v8.34M613.33 428.50h8.34M617.50 424.33v8.34M544.33 426.50h8.34M548.50 422.33v8.34M568.33 402.50h8.34M572.50 398.33v8.34M575.33 396.50h8.34M579.50 392.33v8.34M608.33 431.50h8.34M612.50 427.33v8.34M571.33 419.50h8.34M575.50 415.33v8.34M578.33 396.50h8.34M582.50 392.33v8.34M544.33 358.50h8.34M548.50 354.33v8.34M524.33 402.50h8.34M528.50 398.33v8.34M577.33 394.50h8.34M581.50 390.33v8.34M563.33 356.50h8.34M567.50 352.33v8.34M541.33 399.50h8.34M545.50 395.33v8.34M609.33 437.50h8.34M613.50 433.33v8.34M567.33 434.50h8.34M571.50 430.33v8.34M543.33 379.50h8.34M547.50 375.33v8.34M611.33 430.50h8.34M615.50 426.33v8.34M538.33 394.50h8.34M542.50 390.33v8.34M550.33 384.50h8.34M554.50 380.33v8.34M572.33 394.50h8.34M576.50 390.33v8.34M610.33 430.50h8.34M614.50 426.33v8.34M580.33 433.50h8.34M584.50 429.33v8.34M582.33 386.50h8.34M586.50 382.33v8.34M560.33 409.50h8.34M564.50 405.33v8.34M552.33 390.50h8.34M556.50 386.33v8.34M538.33 359.50h8.34M542.50 355.33v8.34M559.33 369.50h8.34M563.50 365.33v8.34M586.33 410.50h8.34M590.50 406.33v8.34M571.33 396.50h8.34M575.50 392.33v8.34M558.33 370.50h8.34M562.50 366.33v8.34M568.33 401.50h8.34M572.50 397.33v8.34M581.33 397.50h8.34M585.50 393.33v8.34M557.33 420.50h8.34M561.50 416.33v8.34M527.33 383.50h8.34M531.50 379.33v8.34M542.33 366.50h8.34M546.50 362.33v8.34M539.33 379.50h8.34M543.50 375.33v8.34M591.33 425.50h8.34M595.50 421.33v8.34M603.33 415.50h8.34M607.50 411.33v8.34M608.33 413.50h8.34M612.50 409.33v8.34M574.33 437.50h8.34M578.50 433.33v8.34M605.33 428.50h8.34M609.50 424.33v8.34M572.33 387.50h8.34M576.50 383.33v8.34M564.33 399.50h8.34M568.50 395.33v8.34M604.33 427.50h8.34M608.50 423.33v8.34M547.33 376.50h8.34M551.50 372.33v8.34M615.33 425.50h8.34M619.50 421.33v8.34M571.33 433.50h8.34M575.50 429.33v8.34M589.33 391.50h8.34M593.50 387.33v8.34M578.33 441.50h8.34M582.50 437.33v8.34M558.33 406.50h8.34M562.50 402.33v8.34M598.33 396.50h8.34M602.50 392.33v8.34M562.33 397.50h8.34M566.50 393.33v8.34M574.33 405.50h8.34M578.50 401.33v8.34M582.33 425.50h8.34M586.50 421.33v8.34M613.33 439.50h8.34M617.50 435.33v8.34M538.33 372.50h8.34M542.50 368.33v8.34M542.33 360.50h8.34M546.50 356.33v8.34M562.33 440.50h8.34M566.50 436.33v8.34M567.33 423.50h8.34M571.50 419.33v8.34M577.33 401.50h8.34M581.50 397.33v8.34M578.33 440.50h8.34M582.50 436.33v8.34M538.33 359.50h8.34M542.50 355.33v8.34M530.33 361.50h8.34M534.50 357.33v8.34M590.33 423.50h8.34M594.50 419.33v8.34M548.33 373.50h8.34M552.50 369.33v8.34M578.33 383.50h8.34M582.50 379.33v8.34M582.33 439.50h8.34M586.50 435.33v8.34M557.33 347.50h8.34M561.50 343.33v8.34M559.33 430.50h8.34M563.50 426.33v8.34M581.33 438.50h8.34M585.50 434.33v8.34M550.33 381.50h8.34M554.50 377.33v8.34M552.33 430.50h8.34M556.50 426.33v8.34M550.33 362.50h8.34M554.50 358.33v8.34M580.33 382.50h8.34M584.50 378.33v8.34M537.33 426.50h8.34M541.50 422.33v8.34M545.33 372.50h8.34M549.50 368.33v8.34M544.33 414.50h8.34M548.50 410.33v8.34M572.33 425.50h8.34M576.50 421.33v8.34M557.33 418.50h8.34M561.50 414.33v8.34M545.33 437.50h8.34M549.50 433.33v8.34M572.33 356.50h8.34M576.50 352.33v8.34M562.33 368.50h8.34M566.50 364.33v8.34M578.33 400.50h8.34M582.50 396.33v8.34M563.33 408.50h8.34M567.50 404.33v8.34M569.33 356.50h8.34M573.50 352.33v8.34M562.33 410.50h8.34M566.50 406.33v8.34M563.33 394.50h8.34M567.50 390.33v8.34M561.33 369.50h8.34M565.50 365.33v8.34M559.33 382.50h8.34M563.50 378.33v8.34M619.33 429.50h8.34M623.50 425.33v8.34M527.33 409.50h8.34M531.50 405.33v8.34M568.33 407.50h8.34M572.50 403.33v8.34M537.33 430.50h8.34M541.50 426.33v8.34M541.33 365.50h8.34M545.50 361.33v8.34M571.33 411.50h8.34M575.50 407.33v8.34M612.33 420.50h8.34M616.50 416.33v8.34M539.33 425.50h8.34M543.50 421.33v8.34M603.33 426.50h8.34M607.50 422.33v8.34M600.33 424.50h8.34M604.50 420.33v8.34M528.33 413.50h8.34M532.50 409.33v8.34M598.33 425.50h8.34M602.50 421.33v8.34M530.33 380.50h8.34M534.50 376.33v8.34M557.33 355.50h8.34M561.50 351.33v8.34M547.33 368.50h8.34M551.50 364.33v8.34M559.33 432.50h8.34M563.50 428.33v8.34M555.33 423.50h8.34M559.50 419.33v8.34M540.33 408.50h8.34M544.50 404.33v8.34M607.33 426.50h8.34M611.50 422.33v8.34M565.33 365.50h8.34M569.50 361.33v8.34M545.33 413.50h8.34M549.50 409.33v8.34M558.33 391.50h8.34M562.50 387.33v8.34M538.33 414.50h8.34M542.50 410.33v8.34M535.33 392.50h8.34M539.50 388.33v8.34M589.33 434.50h8.34M593.50 430.33v8.34M556.33 358.50h8.34M560.50 354.33v8.34M549.33 403.50h8.34M553.50 399.33v8.34M545.33 418.50h8.34M549.50 414.33v8.34M561.33 361.50h8.34M565.50 357.33v8.34M560.33 400.50h8.34M564.50 396.33v8.34M547.33 347.50h8.34M551.50 343.33v8.34M617.33 411.50h8.34M621.50 407.33v8.34M578.33 394.50h8.34M582.50 390.33v8.34M572.33 439.50h8.34M576.50 435.33v8.34M571.33 363.50h8.34M575.50 359.33v8.34M614.33 426.50h8.34M618.50 422.33v8.34M552.33 409.50h8.34M556.50 405.33v8.34M558.33 384.50h8.34M562.50 380.33v8.34M554.33 387.50h8.34M558.50 383.33v8.34M544.33 355.50h8.34M548.50 351.33v8.34M620.33 438.50h8.34M624.50 434.33v8.34M595.33 406.50h8.34M599.50 402.33v8.34M563.33 431.50h8.34M567.50 427.33v8.34M532.33 410.50h8.34M536.50 406.33v8.34M566.33 395.50h8.34M570.50 391.33v8.34M540.33 361.50h8.34M544.50 357.33v8.34M537.33 429.50h8.34M541.50 425.33v8.34M577.33 401.50h8.34M581.50 397.33v8.34M536.33 394.50h8.34M540.50 390.33v8.34M562.33 353.50h8.34M566.50 349.33v8.34M583.33 413.50h8.34M587.50 409.33v8.34M535.33 426.50h8.34M539.50 422.33v8.34M554.33 381.50h8.34M558.50 377.33v8.34M547.33 372.50h8.34M551.50 368.33v8.34M623.33 432.50h8.34M627.50 428.33v8.34M559.33 416.50h8.34M563.50 412.33v8.34M538.33 376.50h8.34M542.50 372.33v8.34M588.33 425.50h8.34M592.50 421.33v8.34M548.33 386.50h8.34M552.50 382.33v8.34M538.33 424.50h8.34M542.50 420.33v8.34M554.33 412.50h8.34M558.50 408.33v8.34M598.33 423.50h8.34M602.50 419.33v8.34M555.33 359.50h8.34M559.50 355.33v8.34M543.33 422.50h8.34M547.50 418.33v8.34M577.33 358.50h8.34M581.50 354.33v8.34M535.33 380.50h8.34M539.50 376.33v8.34M539.33 380.50h8.34M543.50 376.33v8.34M570.33 379.50h8.34M574.50 375.33v8.34M552.33 348.50h8.34M556.50 344.33v8.34M554.33 395.50h8.34M558.50 391.33v8.34M581.33 437.50h8.34M585.50 433.33v8.34M587.33 417.50h8.34M591.50 413.33v8.34M590.33 407.50h8.34M594.50 403.33v8.34M612.33 428.50h8.34M616.50 424.33v8.34M557.33 416.50h8.34M561.50 412.33v8.34M585.33 384.50h8.34M589.50 380.33v8.34M556.33 441.50h8.34M560.50 437.33v8.34M550.33 368.50h8.34M554.50 364.33v8.34M570.33 387.50h8.34M574.50 383.33v8.34M542.33 352.50h8.34M546.50 348.33v8.34M583.33 443.50h8.34M587.50 439.33v8.34M573.33 430.50h8.34M577.50 426.33v8.34M554.33 348.50h8.34M558.50 344.33v8.34M562.33 362.50h8.34M566.50 358.33v8.34M601.33 437.50h8.34M605.50 433.33v8.34M609.33 430.50h8.34M613.50 426.33v8.34M548.33 395.50h8.34M552.50 391.33v8.34M558.33 416.50h8.34M562.50 412.33v8.34M536.33 385.50h8.34M540.50 381.33v8.34M558.33 392.50h8.34M562.50 388.33v8.34M589.33 415.50h8.34M593.50 411.33v8.34M542.33 358.50h8.34M546.50 354.33v8.34M577.33 401.50h8.34M581.50 397.33v8.34M600.33 417.50h8.34M604.50 413.33v8.34M604.33 440.50h8.34M608.50 436.33v8.34M580.33 436.50h8.34M584.50 432.33v8.34M575.33 406.50h8.34M579.50 402.33v8.34M530.33 393.50h8.34M534.50 389.33v8.34M541.33 358.50h8.34M545.50 354.33v8.34M543.33 346.50h8.34M547.50 342.33v8.34M563.33 434.50h8.34M567.50 430.33v8.34M527.33 409.50h8.34M531.50 405.33v8.34M526.33 401.50h8.34M530.50 397.33v8.34M549.33 371.50h8.34M553.50 367.33v8.34M550.33 362.50h8.34M554.50 358.33v8.34M557.33 443.50h8.34M561.50 439.33v8.34M543.33 427.50h8.34M547.50 423.33v8.34M603.33 426.50h8.34M607.50 422.33v8.34M578.33 433.50h8.34M582.50 429.33v8.34M582.33 387.50h8.34M586.50 383.33v8.34M544.33 433.50h8.34M548.50 429.33v8.34M615.33 441.50h8.34M619.50 437.33v8.34M544.33 439.50h8.34M548.50 435.33v8.34M543.33 417.50h8.34M547.50 413.33v8.34M560.33 430.50h8.34M564.50 426.33v8.34M550.33 421.50h8.34M554.50 417.33v8.34M577.33 367.50h8.34M581.50 363.33v8.34M561.33 431.50h8.34M565.50 427.33v8.34M542.33 389.50h8.34M546.50 385.33v8.34M539.33 416.50h8.34M543.50 412.33v8.34M565.33 392.50h8.34M569.50 388.33v8.34M551.33 436.50h8.34M555.50 432.33v8.34M554.33 362.50h8.34M558.50 358.33v8.34M527.33 395.50h8.34M531.50 391.33v8.34M562.33 343.50h8.34M566.50 339.33v8.34M579.33 393.50h8.34M583.50 389.33v8.34M560.33 378.50h8.34M564.50 374.33v8.34M564.33 382.50h8.34M568.50 378.33v8.34M589.33 437.50h8.34M593.50 433.33v8.34M565.33 369.50h8.34M569.50 365.33v8.34M614.33 420.50h8.34M618.50 416.33v8.34M590.33 402.50h8.34M594.50 398.33v8.34M528.33 415.50h8.34M532.50 411.33v8.34M588.33 444.50h8.34M592.50 440.33v8.34M579.33 403.50h8.34M583.50 399.33v8.34M592.33 400.50h8.34M596.50 396.33v8.34M548.33 433.50h8.34M552.50 429.33v8.34M580.33 392.50h8.34M584.50 388.33v8.34M581.33 394.50h8.34M585.50 390.33v8.34M539.33 425.50h8.34M543.50 421.33v8.34M612.33 431.50h8.34M616.50 427.33v8.34M566.33 424.50h8.34M570.50 420.33v8.34M544.33 370.50h8.34M548.50 366.33v8.34M566.33 439.50h8.34M570.50 435.33v8.34M575.33 421.50h8.34M579.50 417.33v8.34M578.33 369.50h8.34M582.50 365.33v8.34M545.33 390.50h8.34M549.50 386.33v8.34M560.33 348.50h8.34M564.50 344.33v8.34M600.33 428.50h8.34M604.50 424.33v8.34M574.33 363.50h8.34M578.50 359.33v8.34M571.33 398.50h8.34M575.50 394.33v8.34M569.33 390.50h8.34M573.50 386.33v8.34M565.33 403.50h8.34M569.50 399.33v8.34M589.33 379.50h8.34M593.50 375.33v8.34M518.33 393.50h8.34M522.50 389.33v8.34M575.33 431.50h8.34M579.50 427.33v8.34M581.33 420.50h8.34M585.50 416.33v8.34M618.33 416.50h8.34M622.50 412.33v8.34M528.33 422.50h8.34M532.50 418.33v8.34M524.33 402.50h8.34M528.50 398.33v8.34M521.33 406.50h8.34M525.50 402.33v8.34M569.33 384.50h8.34M573.50 380.33v8.34M552.33 352.50h8.34M556.50 348.33v8.34M585.33 371.50h8.34M589.50 367.33v8.34M541.33 324.50h8.34M545.50 320.33v8.34M574.33 379.50h8.34M578.50 375.33v8.34M521.33 357.50h8.34M525.50 353.33v8.34M551.33 421.50h8.34M555.50 417.33v8.34M570.33 437.50h8.34M574.50 433.33v8.34M524.33 372.50h8.34M528.50 368.33v8.34M603.33 404.50h8.34M607.50 400.33v8.34M532.33 325.50h8.34M536.50 321.33v8.34M570.33 405.50h8.34M574.50 401.33v8.34M530.33 407.50h8.34M534.50 403.33v8.34M553.33 346.50h8.34M557.50 342.33v8.34M619.33 442.50h8.34M623.50 438.33v8.34M567.33 401.50h8.34M571.50 397.33v8.34M529.33 375.50h8.34M533.50 371.33v8.34M639.33 443.50h8.34M643.50 439.33v8.34M555.33 360.50h8.34M559.50 356.33v8.34M576.33 426.50h8.34M580.50 422.33v8.34M528.33 339.50h8.34M532.50 335.33v8.34M590.33 444.50h8.34M594.50 440.33v8.34M560.33 378.50h8.34M564.50 374.33v8.34M540.33 418.50h8.34M544.50 414.33v8.34M585.33 416.50h8.34M589.50 412.33v8.34M525.33 384.50h8.34M529.50 380.33v8.34M533.33 392.50h8.34M537.50 388.33v8.34M536.33 440.50h8.34M540.50 436.33v8.34M538.33 329.50h8.34M542.50 325.33v8.34M584.33 387.50h8.34M588.50 383.33v8.34M536.33 385.50h8.34M540.50 381.33v8.34M543.33 370.50h8.34M547.50 366.33v8.34M542.33 428.50h8.34M546.50 424.33v8.34M576.33 417.50h8.34M580.50 413.33v8.34M548.33 414.50h8.34M552.50 410.33v8.34M519.33 367.50h8.34M523.50 363.33v8.34M593.33 416.50h8.34M597.50 412.33v8.34M550.33 394.50h8.34M554.50 390.33v8.34M598.33 404.50h8.34M602.50 400.33v8.34M548.33 410.50h8.34M552.50 406.33v8.34M562.33 337.50h8.34M566.50 333.33v8.34M565.33 441.50h8.34M569.50 437.33v8.34M580.33 377.50h8.34M584.50 373.33v8.34M546.33 394.50h8.34M550.50 390.33v8.34M528.33 409.50h8.34M532.50 405.33v8.34M628.33 435.50h8.34M632.50 431.33v8.34M550.33 425.50h8.34M554.50 421.33v8.34M579.33 430.50h8.34M583.50 426.33v8.34M569.33 414.50h8.34M573.50 410.33v8.34M599.33 426.50h8.34M603.50 422.33v8.34M557.33 347.50h8.34M561.50 343.33v8.34M528.33 350.50h8.34M532.50 346.33v8.34M605.33 422.50h8.34M609.50 418.33v8.34M544.33 352.50h8.34M548.50 348.33v8.34M541.33 428.50h8.34M545.50 424.33v8.34M571.33 380.50h8.34M575.50 376.33v8.34M535.33 438.50h8.34M539.50 434.33v8.34M553.33 364.50h8.34M557.50 360.33v8.34M569.33 434.50h8.34M573.50 430.33v8.34M520.33 398.50h8.34M524.50 394.33v8.34M562.33 400.50h8.34M566.50 396.33v8.34M587.33 402.50h8.34M591.50 398.33v8.34M569.33 443.50h8.34M573.50 439.33v8.34M579.33 411.50h8.34M583.50 407.33v8.34M565.33 334.50h8.34M569.50 330.33v8.34M535.33 392.50h8.34M539.50 388.33v8.34M566.33 411.50h8.34M570.50 407.33v8.34M565.33 437.50h8.34M569.50 433.33v8.34M548.33 337.50h8.34M552.50 333.33v8.34M537.33 382.50h8.34M541.50 378.33v8.34M557.33 326.50h8.34M561.50 322.33v8.34M543.33 356.50h8.34M547.50 352.33v8.34M560.33 374.50h8.34M564.50 370.33v8.34M570.33 366.50h8.34M574.50 362.33v8.34M538.33 434.50h8.34M542.50 430.33v8.34M598.33 417.50h8.34M602.50 413.33v8.34M589.33 401.50h8.34M593.50 397.33v8.34M562.33 434.50h8.34M566.50 430.33v8.34M563.33 438.50h8.34M567.50 434.33v8.34M527.33 384.50h8.34M531.50 380.33v8.34M572.33 421.50h8.34M576.50 417.33v8.34M597.33 438.50h8.34M601.50 434.33v8.34M562.33 366.50h8.34M566.50 362.33v8.34M538.33 428.50h8.34M542.50 424.33v8.34M605.33 433.50h8.34M609.50 429.33v8.34M520.33 370.50h8.34M524.50 366.33v8.34M568.33 394.50h8.34M572.50 390.33v8.34M621.33 426.50h8.34M625.50 422.33v8.34M632.33 428.50h8.34M636.50 424.33v8.34M604.33 431.50h8.34M608.50 427.33v8.34M548.33 324.50h8.34M552.50 320.33v8.34M553.33 345.50h8.34M557.50 341.33v8.34M605.33 440.50h8.34M609.50 436.33v8.34M538.33 353.50h8.34M542.50 349.33v8.34M594.33 421.50h8.34M598.50 417.33v8.34M530.33 345.50h8.34M534.50 341.33v8.34M561.33 393.50h8.34M565.50 389.33v8.34M546.33 422.50h8.34M550.50 418.33v8.34M520.33 382.50h8.34M524.50 378.33v8.34M596.33 409.50h8.34M600.50 405.33v8.34M584.33 396.50h8.34M588.50 392.33v8.34M575.33 402.50h8.34M579.50 398.33v8.34M559.33 342.50h8.34M563.50 338.33v8.34M539.33 411.50h8.34M543.50 407.33v8.34M544.33 408.50h8.34M548.50 404.33v8.34M594.33 406.50h8.34M598.50 402.33v8.34M612.33 409.50h8.34M616.50 405.33v8.34M553.33 365.50h8.34M557.50 361.33v8.34M519.33 343.50h8.34M523.50 339.33v8.34M534.33 334.50h8.34M538.50 330.33v8.34M582.33 442.50h8.34M586.50 438.33v8.34M579.33 423.50h8.34M583.50 419.33v8.34M590.33 383.50h8.34M594.50 379.33v8.34M612.33 437.50h8.34M616.50 433.33v8.34M622.33 425.50h8.34M626.50 421.33v8.34M545.33 392.50h8.34M549.50 388.33v8.34M522.33 356.50h8.34M526.50 352.33v8.34M580.33 400.50h8.34M584.50 396.33v8.34M532.33 393.50h8.34M536.50 389.33v8.34M573.33 390.50h8.34M577.50 386.33v8.34M576.33 366.50h8.34M580.50 362.33v8.34M547.33 398.50h8.34M551.50 394.33v8.34M535.33 433.50h8.34M539.50 429.33v8.34M548.33 445.50h8.34M552.50 441.33v8.34M615.33 420.50h8.34M619.50 416.33v8.34M528.33 329.50h8.34M532.50 325.33v8.34M523.33 328.50h8.34M527.50 324.33v8.34M549.33 402.50h8.34M553.50 398.33v8.34M537.33 319.50h8.34M541.50 315.33v8.34M543.33 422.50h8.34M547.50 418.33v8.34M536.33 415.50h8.34M540.50 411.33v8.34M584.33 422.50h8.34M588.50 418.33v8.34M594.33 419.50h8.34M598.50 415.33v8.34M562.33 326.50h8.34M566.50 322.33v8.34M565.33 355.50h8.34M569.50 351.33v8.34M595.33 442.50h8.34M599.50 438.33v8.34M526.33 330.50h8.34M530.50 326.33v8.34M581.33 377.50h8.34M585.50 373.33v8.34M600.33 431.50h8.34M604.50 427.33v8.34M599.33 427.50h8.34M603.50 423.33v8.34M536.33 438.50h8.34M540.50 434.33v8.34M548.33 357.50h8.34M552.50 353.33v8.34M534.33 373.50h8.34M538.50 369.33v8.34M625.33 442.50h8.34M629.50 438.33v8.34M552.33 370.50h8.34M556.50 366.33v8.34M629.33 437.50h8.34M633.50 433.33v8.34M618.33 428.50h8.34M622.50 424.33v8.34M529.33 425.50h8.34M533.50 421.33v8.34M566.33 386.50h8.34M570.50 382.33v8.34M579.33 399.50h8.34M583.50 395.33v8.34M567.33 429.50h8.34M571.50 425.33v8.34M527.33 348.50h8.34M531.50 344.33v8.34M517.33 345.50h8.34M521.50 341.33v8.34M538.33 371.50h8.34M542.50 367.33v8.34M613.33 415.50h8.34M617.50 411.33v8.34M548.33 350.50h8.34M552.50 346.33v8.34M589.33 399.50h8.34M593.50 395.33v8.34M557.33 326.50h8.34M561.50 322.33v8.34M566.33 337.50h8.34M570.50 333.33v8.34M553.33 416.50h8.34M557.50 412.33v8.34M555.33 368.50h8.34M559.50 364.33v8.34M520.33 341.50h8.34M524.50 337.33v8.34M539.33 330.50h8.34M543.50 326.33v8.34M552.33 326.50h8.34M556.50 322.33v8.34M531.33 442.50h8.34M535.50 438.33v8.34M535.33 419.50h8.34M539.50 415.33v8.34M549.33 420.50h8.34M553.50 416.33v8.34M540.33 346.50h8.34M544.50 342.33v8.34M603.33 424.50h8.34M607.50 420.33v8.34M578.33 408.50h8.34M582.50 404.33v8.34M548.33 374.50h8.34M552.50 370.33v8.34M567.33 376.50h8.34M571.50 372.33v8.34M527.33 343.50h8.34M531.50 339.33v8.34M630.33 439.50h8.34M634.50 435.33v8.34M550.33 338.50h8.34M554.50 334.33v8.34M531.33 350.50h8.34M535.50 346.33v8.34M577.33 360.50h8.34M581.50 356.33v8.34M567.33 333.50h8.34M571.50 329.33v8.34M538.33 317.50h8.34M542.50 313.33v8.34M520.33 375.50h8.34M524.50 371.33v8.34M544.33 379.50h8.34M548.50 375.33v8.34M541.33 419.50h8.34M545.50 415.33v8.34M548.33 393.50h8.34M552.50 389.33v8.34M544.33 322.50h8.34M548.50 318.33v8.34M536.33 410.50h8.34M540.50 406.33v8.34M576.33 404.50h8.34M580.50 400.33v8.34M540.33 378.50h8.34M544.50 374.33v8.34M579.33 443.50h8.34M583.50 439.33v8.34M545.33 441.50h8.34M549.50 437.33v8.34M564.33 403.50h8.34M568.50 399.33v8.34M542.33 423.50h8.34M546.50 419.33v8.34M546.33 374.50h8.34M550.50 370.33v8.34M541.33 351.50h8.34M545.50 347.33v8.34M533.33 335.50h8.34M537.50 331.33v8.34M545.33 338.50h8.34M549.50 334.33v8.34M567.33 427.50h8.34M571.50 423.33v8.34M530.33 321.50h8.34M534.50 317.33v8.34M574.33 382.50h8.34M578.50 378.33v8.34M530.33 346.50h8.34M534.50 342.33v8.34M622.33 431.50h8.34M626.50 427.33v8.34M526.33 431.50h8.34M530.50 427.33v8.34M543.33 364.50h8.34M547.50 360.33v8.34M524.33 410.50h8.34M528.50 406.33v8.34M607.33 419.50h8.34M611.50 415.33v8.34M603.33 407.50h8.34M607.50 403.33v8.34M549.33 372.50h8.34M553.50 368.33v8.34M572.33 439.50h8.34M576.50 435.33v8.34M604.33 416.50h8.34M608.50 412.33v8.34M547.33 352.50h8.34M551.50 348.33v8.34M573.33 372.50h8.34M577.50 368.33v8.34M561.33 407.50h8.34M565.50 403.33v8.34M565.33 436.50h8.34M569.50 432.33v8.34M598.33 394.50h8.34M602.50 390.33v8.34M542.33 416.50h8.34M546.50 412.33v8.34M625.33 428.50h8.34M629.50 424.33v8.34M519.33 384.50h8.34M523.50 380.33v8.34M529.33 321.50h8.34M533.50 317.33v8.34M518.33 350.50h8.34M522.50 346.33v8.34M534.33 436.50h8.34M538.50 432.33v8.34M559.33 386.50h8.34M563.50 382.33v8.34M525.33 329.50h8.34M529.50 325.33v8.34M597.33 409.50h8.34M601.50 405.33v8.34M523.33 335.50h8.34M527.50 331.33v8.34M498.33 441.50h8.34M502.50 437.33v8.34M506.33 446.50h8.34M510.50 442.33v8.34M439.33 444.50h8.34M443.50 440.33v8.34M448.33 445.50h8.34M452.50 441.33v8.34M507.33 446.50h8.34M511.50 442.33v8.34M452.33 439.50h8.34M456.50 435.33v8.34M493.33 444.50h8.34M497.50 440.33v8.34M443.33 440.50h8.34M447.50 436.33v8.34M485.33 439.50h8.34M489.50 435.33v8.34M490.33 441.50h8.34M494.50 437.33v8.34M454.33 442.50h8.34M458.50 438.33v8.34M481.33 445.50h8.34M485.50 441.33v8.34M432.33 445.50h8.34M436.50 441.33v8.34M451.33 441.50h8.34M455.50 437.33v8.34M491.33 445.50h8.34M495.50 441.33v8.34M489.33 447.50h8.34M493.50 443.33v8.34M449.33 441.50h8.34M453.50 437.33v8.34M493.33 441.50h8.34M497.50 437.33v8.34M445.33 441.50h8.34M449.50 437.33v8.34M504.33 446.50h8.34M508.50 442.33v8.34M498.33 447.50h8.34M502.50 443.33v8.34M506.33 441.50h8.34M510.50 437.33v8.34M460.33 445.50h8.34M464.50 441.33v8.34M435.33 444.50h8.34M439.50 440.33v8.34M438.33 439.50h8.34M442.50 435.33v8.34M479.33 440.50h8.34M483.50 436.33v8.34M519.33 446.50h8.34M523.50 442.33v8.34M474.33 440.50h8.34M478.50 436.33v8.34M441.33 443.50h8.34M445.50 439.33v8.34M480.33 442.50h8.34M484.50 438.33v8.34M498.33 443.50h8.34M502.50 439.33v8.34M504.33 439.50h8.34M508.50 435.33v8.34M436.33 442.50h8.34M440.50 438.33v8.34M476.33 441.50h8.34M480.50 437.33v8.34M494.33 441.50h8.34M498.50 437.33v8.34M460.33 443.50h8.34M464.50 439.33v8.34M498.33 445.50h8.34M502.50 441.33v8.34M465.33 443.50h8.34M469.50 439.33v8.34M519.33 447.50h8.34M523.50 443.33v8.34M489.33 439.50h8.34M493.50 435.33v8.34M473.33 444.50h8.34M477.50 440.33v8.34M456.33 439.50h8.34M460.50 435.33v8.34M524.33 447.50h8.34M528.50 443.33v8.34M442.33 443.50h8.34M446.50 439.33v8.34M489.33 441.50h8.34M493.50 437.33v8.34M436.33 445.50h8.34M440.50 441.33v8.34M503.33 442.50h8.34M507.50 438.33v8.34M438.33 442.50h8.34M442.50 438.33v8.34M439.33 447.50h8.34M443.50 443.33v8.34M434.33 441.50h8.34M438.50 437.33v8.34M503.33 440.50h8.34M507.50 436.33v8.34M440.33 439.50h8.34M444.50 435.33v8.34M445.33 443.50h8.34M449.50 439.33v8.34M509.33 440.50h8.34M513.50 436.33v8.34M446.33 445.50h8.34M450.50 441.33v8.34M470.33 442.50h8.34M474.50 438.33v8.34M441.33 441.50h8.34M445.50 437.33v8.34M523.33 440.50h8.34M527.50 436.33v8.34M454.33 445.50h8.34M458.50 441.33v8.34M515.33 447.50h8.34M519.50 443.33v8.34M475.33 447.50h8.34M479.50 443.33v8.34M487.33 441.50h8.34M491.50 437.33v8.34M474.33 445.50h8.34M478.50 441.33v8.34M500.33 440.50h8.34M504.50 436.33v8.34M448.33 447.50h8.34M452.50 443.33v8.34M440.33 446.50h8.34M444.50 442.33v8.34M462.33 441.50h8.34M466.50 437.33v8.34M454.33 443.50h8.34M458.50 439.33v8.34M525.33 440.50h8.34M529.50 436.33v8.34M512.33 441.50h8.34M516.50 437.33v8.34M446.33 445.50h8.34M450.50 441.33v8.34M462.33 440.50h8.34M466.50 436.33v8.34M470.33 446.50h8.34M474.50 442.33v8.34M512.33 444.50h8.34M516.50 440.33v8.34M431.33 445.50h8.34M435.50 441.33v8.34M488.33 447.50h8.34M492.50 443.33v8.34M521.33 441.50h8.34M525.50 437.33v8.34M511.33 446.50h8.34M515.50 442.33v8.34M455.33 442.50h8.34M459.50 438.33v8.34M465.33 442.50h8.34M469.50 438.33v8.34M466.33 439.50h8.34M470.50 435.33v8.34M451.33 447.50h8.34M455.50 443.33v8.34M469.33 444.50h8.34M473.50 440.33v8.34M515.33 445.50h8.34M519.50 441.33v8.34M453.33 447.50h8.34M457.50 443.33v8.34M507.33 447.50h8.34M511.50 443.33v8.34M499.33 445.50h8.34M503.50 441.33v8.34M508.33 441.50h8.34M512.50 437.33v8.34M492.33 442.50h8.34M496.50 438.33v8.34M510.33 440.50h8.34M514.50 436.33v8.34M481.33 442.50h8.34M485.50 438.33v8.34M508.33 442.50h8.34M512.50 438.33v8.34M511.33 446.50h8.34M515.50 442.33v8.34M514.33 440.50h8.34M518.50 436.33v8.34M520.33 445.50h8.34M524.50 441.33v8.34M494.33 444.50h8.34M498.50 440.33v8.34M434.33 446.50h8.34M438.50 442.33v8.34M482.33 443.50h8.34M486.50 439.33v8.34M462.33 446.50h8.34M466.50 442.33v8.34M505.33 446.50h8.34M509.50 442.33v8.34M450.33 442.50h8.34M454.50 438.33v8.34M453.33 439.50h8.34M457.50 435.33v8.34M461.33 439.50h8.34M465.50 435.33v8.34M506.33 441.50h8.34M510.50 437.33v8.34M436.33 439.50h8.34M440.50 435.33v8.34M501.33 440.50h8.34M505.50 436.33v8.34M474.33 442.50h8.34M478.50 438.33v8.34M507.33 447.50h8.34M511.50 443.33v8.34M459.33 444.50h8.34M463.50 440.33v8.34M515.33 443.50h8.34M519.50 439.33v8.34M516.33 445.50h8.34M520.50 441.33v8.34M459.33 446.50h8.34M463.50 442.33v8.34M485.33 439.50h8.34M489.50 435.33v8.34M486.33 446.50h8.34M490.50 442.33v8.34M479.33 443.50h8.34M483.50 439.33v8.34M469.33 446.50h8.34M473.50 442.33v8.34M493.33 440.50h8.34M497.50 436.33v8.34M464.33 442.50h8.34M468.50 438.33v8.34M522.33 445.50h8.34M526.50 441.33v8.34M441.33 447.50h8.34M445.50 443.33v8.34M487.33 429.50h8.34M491.50 425.33v8.34M504.33 431.50h8.34M508.50 427.33v8.34M504.33 419.50h8.34M508.50 415.33v8.34M507.33 433.50h8.34M511.50 429.33v8.34M519.33 424.50h8.34M523.50 420.33v8.34M495.33 432.50h8.34M499.50 428.33v8.34M519.33 422.50h8.34M523.50 418.33v8.34M523.33 436.50h8.34M527.50 432.33v8.34M504.33 425.50h8.34M508.50 421.33v8.34M515.33 435.50h8.34M519.50 431.33v8.34M494.33 423.50h8.34M498.50 419.33v8.34M499.33 431.50h8.34M503.50 427.33v8.34M493.33 428.50h8.34M497.50 424.33v8.34M507.33 430.50h8.34M511.50 426.33v8.34M492.33 436.50h8.34M496.50 432.33v8.34M528.33 428.50h8.34M532.50 424.33v8.34M579.33 438.50h8.34M583.50 434.33v8.34M588.33 442.50h8.34M592.50 438.33v8.34M576.33 446.50h8.34M580.50 442.33v8.34M544.33 447.50h8.34M548.50 443.33v8.34M532.33 436.50h8.34M536.50 432.33v8.34M556.33 446.50h8.34M560.50 442.33v8.34M588.33 447.50h8.34M592.50 443.33v8.34M556.33 447.50h8.34M560.50 443.33v8.34M560.33 437.50h8.34M564.50 433.33v8.34M566.33 445.50h8.34M570.50 441.33v8.34M549.33 443.50h8.34M553.50 439.33v8.34M536.33 439.50h8.34M540.50 435.33v8.34M549.33 442.50h8.34M553.50 438.33v8.34M553.33 437.50h8.34M557.50 433.33v8.34M516.33 440.50h8.34M520.50 436.33v8.34M573.33 444.50h8.34M577.50 440.33v8.34M534.33 439.50h8.34M538.50 435.33v8.34M557.33 438.50h8.34M561.50 434.33v8.34M564.33 446.50h8.34M568.50 442.33v8.34M532.33 443.50h8.34M536.50 439.33v8.34M573.33 444.50h8.34M577.50 440.33v8.34M572.33 444.50h8.34M576.50 440.33v8.34M537.33 446.50h8.34M541.50 442.33v8.34M590.33 436.50h8.34M594.50 432.33v8.34M591.33 441.50h8.34M595.50 437.33v8.34M522.33 436.50h8.34M526.50 432.33v8.34M579.33 444.50h8.34M583.50 440.33v8.34M527.33 441.50h8.34M531.50 437.33v8.34M567.33 447.50h8.34M571.50 443.33v8.34M542.33 445.50h8.34M546.50 441.33v8.34M535.33 438.50h8.34M539.50 434.33v8.34M528.33 440.50h8.34M532.50 436.33v8.34M565.33 439.50h8.34M569.50 435.33v8.34M528.33 438.50h8.34M532.50 434.33v8.34M522.33 438.50h8.34M526.50 434.33v8.34M541.33 442.50h8.34M545.50 438.33v8.34M530.33 441.50h8.34M534.50 437.33v8.34M551.33 447.50h8.34M555.50 443.33v8.34M554.33 447.50h8.34M558.50 443.33v8.34M553.33 438.50h8.34M557.50 434.33v8.34M563.33 437.50h8.34M567.50 433.33v8.34M529.33 436.50h8.34M533.50 432.33v8.34M572.33 447.50h8.34M576.50 443.33v8.34M548.33 440.50h8.34M552.50 436.33v8.34M550.33 440.50h8.34M554.50 436.33v8.34M571.33 440.50h8.34M575.50 436.33v8.34M528.33 446.50h8.34M532.50 442.33v8.34M561.33 436.50h8.34M565.50 432.33v8.34M583.33 444.50h8.34M587.50 440.33v8.34M544.33 443.50h8.34M548.50 439.33v8.34M589.33 440.50h8.34M593.50 436.33v8.34M550.33 439.50h8.34M554.50 435.33v8.34M560.33 443.50h8.34M564.50 439.33v8.34M574.33 447.50h8.34M578.50 443.33v8.34M527.33 440.50h8.34M531.50 436.33v8.34M584.33 445.50h8.34M588.50 441.33v8.34M563.33 444.50h8.34M567.50 440.33v8.34M543.33 447.50h8.34M547.50 443.33v8.34M559.33 440.50h8.34M563.50 436.33v8.34M530.33 437.50h8.34M534.50 433.33v8.34M587.33 445.50h8.34M591.50 441.33v8.34M518.33 439.50h8.34M522.50 435.33v8.34M554.33 441.50h8.34M558.50 437.33v8.34M545.33 446.50h8.34M549.50 442.33v8.34M543.33 442.50h8.34M547.50 438.33v8.34M590.33 443.50h8.34M594.50 439.33v8.34M554.33 439.50h8.34M558.50 435.33v8.34M546.33 443.50h8.34M550.50 439.33v8.34M578.33 439.50h8.34M582.50 435.33v8.34M545.33 440.50h8.34M549.50 436.33v8.34M545.33 446.50h8.34M549.50 442.33v8.34M559.33 439.50h8.34M563.50 435.33v8.34M542.33 445.50h8.34M546.50 441.33v8.34M528.33 444.50h8.34M532.50 440.33v8.34M517.33 438.50h8.34M521.50 434.33v8.34M520.33 445.50h8.34M524.50 441.33v8.34M527.33 438.50h8.34M531.50 434.33v8.34M520.33 439.50h8.34M524.50 435.33v8.34M574.33 444.50h8.34M578.50 440.33v8.34M588.33 447.50h8.34M592.50 443.33v8.34M629.33 448.50h8.34M633.50 444.33v8.34M601.33 448.50h8.34M605.50 444.33v8.34M622.33 439.50h8.34M626.50 435.33v8.34M640.33 447.50h8.34M644.50 443.33v8.34M619.33 438.50h8.34M623.50 434.33v8.34M648.33 446.50h8.34M652.50 442.33v8.34M631.33 448.50h8.34M635.50 444.33v8.34M598.33 437.50h8.34M602.50 433.33v8.34M603.33 437.50h8.34M607.50 433.33v8.34M638.33 444.50h8.34M642.50 440.33v8.34M602.33 438.50h8.34M606.50 434.33v8.34M606.33 444.50h8.34M610.50 440.33v8.34M636.33 448.50h8.34M640.50 444.33v8.34M617.33 448.50h8.34M621.50 444.33v8.34M622.33 441.50h8.34M626.50 437.33v8.34M611.33 439.50h8.34M615.50 435.33v8.34M654.33 448.50h8.34M658.50 444.33v8.34M638.33 439.50h8.34M642.50 435.33v8.34M606.33 438.50h8.34M610.50 434.33v8.34M617.33 445.50h8.34M621.50 441.33v8.34M599.33 443.50h8.34M603.50 439.33v8.34M636.33 437.50h8.34M640.50 433.33v8.34M622.33 446.50h8.34M626.50 442.33v8.34M630.33 442.50h8.34M634.50 438.33v8.34M648.33 444.50h8.34M652.50 440.33v8.34M616.33 441.50h8.34M620.50 437.33v8.34M652.33 447.50h8.34M656.50 443.33v8.34M650.33 443.50h8.34M654.50 439.33v8.34M604.33 439.50h8.34M608.50 435.33v8.34M619.33 445.50h8.34M623.50 441.33v8.34M596.33 446.50h8.34M600.50 442.33v8.34M643.33 443.50h8.34M647.50 439.33v8.34M596.33 446.50h8.34M600.50 442.33v8.34M620.33 445.50h8.34M624.50 441.33v8.34M630.33 445.50h8.34M634.50 441.33v8.34M620.33 448.50h8.34M624.50 444.33v8.34M653.33 448.50h8.34M657.50 444.33v8.34M632.33 440.50h8.34M636.50 436.33v8.34M618.33 440.50h8.34M622.50 436.33v8.34M650.33 446.50h8.34M654.50 442.33v8.34M614.33 454.50h8.34M618.50 450.33v8.34M635.33 452.50h8.34M639.50 448.33v8.34M567.33 453.50h8.34M571.50 449.33v8.34M562.33 452.50h8.34M566.50 448.33v8.34M551.33 454.50h8.34M555.50 450.33v8.34M584.33 448.50h8.34M588.50 444.33v8.34M628.33 446.50h8.34M632.50 442.33v8.34M629.33 453.50h8.34M633.50 449.33v8.34M550.33 453.50h8.34M554.50 449.33v8.34M593.33 455.50h8.34M597.50 451.33v8.34M594.33 450.50h8.34M598.50 446.33v8.34M629.33 446.50h8.34M633.50 442.33v8.34M613.33 447.50h8.34M617.50 443.33v8.34M563.33 447.50h8.34M567.50 443.33v8.34M623.33 450.50h8.34M627.50 446.33v8.34M608.33 448.50h8.34M612.50 444.33v8.34M609.33 452.50h8.34M613.50 448.33v8.34M545.33 450.50h8.34M549.50 446.33v8.34M608.33 448.50h8.34M612.50 444.33v8.34M601.33 448.50h8.34M605.50 444.33v8.34M573.33 455.50h8.34M577.50 451.33v8.34M630.33 455.50h8.34M634.50 451.33v8.34M578.33 451.50h8.34M582.50 447.33v8.34M616.33 453.50h8.34M620.50 449.33v8.34M581.33 454.50h8.34M585.50 450.33v8.34M576.33 455.50h8.34M580.50 451.33v8.34M583.33 447.50h8.34M587.50 443.33v8.34M610.33 447.50h8.34M614.50 443.33v8.34M603.33 446.50h8.34M607.50 442.33v8.34M634.33 451.50h8.34M638.50 447.33v8.34M610.33 447.50h8.34M614.50 443.33v8.34M599.33 449.50h8.34M603.50 445.33v8.34M560.33 454.50h8.34M564.50 450.33v8.34M539.33 450.50h8.34M543.50 446.33v8.34M544.33 454.50h8.34M548.50 450.33v8.34M267.33 425.50h8.34M271.50 421.33v8.34M276.33 426.50h8.34M280.50 422.33v8.34M301.33 423.50h8.34M305.50 419.33v8.34M293.33 431.50h8.34M297.50 427.33v8.34M295.33 438.50h8.34M299.50 434.33v8.34M302.33 430.50h8.34M306.50 426.33v8.34M306.33 431.50h8.34M310.50 427.33v8.34M307.33 434.50h8.34M311.50 430.33v8.34M310.33 436.50h8.34M314.50 432.33v8.34M323.33 425.50h8.34M327.50 421.33v8.34M327.33 431.50h8.34M331.50 427.33v8.34M321.33 437.50h8.34M325.50 433.33v8.34M317.33 440.50h8.34M321.50 436.33v8.34M334.33 425.50h8.34M338.50 421.33v8.34M338.33 424.50h8.34M342.50 420.33v8.34M346.33 424.50h8.34M350.50 420.33v8.34M353.33 425.50h8.34M357.50 421.33v8.34M355.33 427.50h8.34M359.50 423.33v8.34M360.33 425.50h8.34M364.50 421.33v8.34M355.33 432.50h8.34M359.50 428.33v8.34M370.33 432.50h8.34M374.50 428.33v8.34M376.33 423.50h8.34M380.50 419.33v8.34M385.33 431.50h8.34M389.50 427.33v8.34M401.33 424.50h8.34M405.50 420.33v8.34M399.33 425.50h8.34M403.50 421.33v8.34M404.33 426.50h8.34M408.50 422.33v8.34M414.33 423.50h8.34M418.50 419.33v8.34M416.33 425.50h8.34M420.50 421.33v8.34M422.33 432.50h8.34M426.50 428.33v8.34M411.33 432.50h8.34M415.50 428.33v8.34M402.33 432.50h8.34M406.50 428.33v8.34M380.33 290.50h8.34M384.50 286.33v8.34M421.33 259.50h8.34M425.50 255.33v8.34M415.33 264.50h8.34M419.50 260.33v8.34M419.33 286.50h8.34M423.50 282.33v8.34M406.33 311.50h8.34M410.50 307.33v8.34M422.33 331.50h8.34M426.50 327.33v8.34M421.33 437.50h8.34M425.50 433.33v8.34M401.33 441.50h8.34M405.50 437.33v8.34M413.33 443.50h8.34M417.50 439.33v8.34M395.33 445.50h8.34M399.50 441.33v8.34M388.33 438.50h8.34M392.50 434.33v8.34M417.33 438.50h8.34M421.50 434.33v8.34M388.33 441.50h8.34M392.50 437.33v8.34M395.33 438.50h8.34M399.50 434.33v8.34M422.33 441.50h8.34M426.50 437.33v8.34M416.33 439.50h8.34M420.50 435.33v8.34M421.33 439.50h8.34M425.50 435.33v8.34M421.33 442.50h8.34M425.50 438.33v8.34M424.33 444.50h8.34M428.50 440.33v8.34M409.33 442.50h8.34M413.50 438.33v8.34M419.33 441.50h8.34M423.50 437.33v8.34M384.33 445.50h8.34M388.50 441.33v8.34M417.33 443.50h8.34M421.50 439.33v8.34M414.33 439.50h8.34M418.50 435.33v8.34M401.33 444.50h8.34M405.50 440.33v8.34M424.33 445.50h8.34M428.50 441.33v8.34M387.33 443.50h8.34M391.50 439.33v8.34M405.33 440.50h8.34M409.50 436.33v8.34M387.33 438.50h8.34M391.50 434.33v8.34M401.33 441.50h8.34M405.50 437.33v8.34M392.33 440.50h8.34M396.50 436.33v8.34M405.33 443.50h8.34M409.50 439.33v8.34M407.33 438.50h8.34M411.50 434.33v8.34M420.33 440.50h8.34M424.50 436.33v8.34M424.33 445.50h8.34M428.50 441.33v8.34M386.33 442.50h8.34M390.50 438.33v8.34M424.33 440.50h8.34M428.50 436.33v8.34M405.33 440.50h8.34M409.50 436.33v8.34M381.33 439.50h8.34M385.50 435.33v8.34M385.33 439.50h8.34M389.50 435.33v8.34M408.33 442.50h8.34M412.50 438.33v8.34M423.33 443.50h8.34M427.50 439.33v8.34M396.33 445.50h8.34M400.50 441.33v8.34M409.33 442.50h8.34M413.50 438.33v8.34M419.33 443.50h8.34M423.50 439.33v8.34M396.33 442.50h8.34M400.50 438.33v8.34M321.33 445.50h8.34M325.50 441.33v8.34M316.33 445.50h8.34M320.50 441.33v8.34M301.33 436.50h8.34M305.50 432.33v8.34M342.33 438.50h8.34M346.50 434.33v8.34M338.33 437.50h8.34M342.50 433.33v8.34M366.33 442.50h8.34M370.50 438.33v8.34M353.33 445.50h8.34M357.50 441.33v8.34M379.33 442.50h8.34M383.50 438.33v8.34M355.33 436.50h8.34M359.50 432.33v8.34M300.33 440.50h8.34M304.50 436.33v8.34M377.33 439.50h8.34M381.50 435.33v8.34M343.33 436.50h8.34M347.50 432.33v8.34M330.33 445.50h8.34M334.50 441.33v8.34M345.33 444.50h8.34M349.50 440.33v8.34M297.33 438.50h8.34M301.50 434.33v8.34M311.33 444.50h8.34M315.50 440.33v8.34M304.33 445.50h8.34M308.50 441.33v8.34M318.33 444.50h8.34M322.50 440.33v8.34M339.33 439.50h8.34M343.50 435.33v8.34M377.33 440.50h8.34M381.50 436.33v8.34M354.33 436.50h8.34M358.50 432.33v8.34M365.33 445.50h8.34M369.50 441.33v8.34M305.33 443.50h8.34M309.50 439.33v8.34M318.33 437.50h8.34M322.50 433.33v8.34M326.33 442.50h8.34M330.50 438.33v8.34M376.33 445.50h8.34M380.50 441.33v8.34M379.33 442.50h8.34M383.50 438.33v8.34M350.33 437.50h8.34M354.50 433.33v8.34M356.33 441.50h8.34M360.50 437.33v8.34M326.33 445.50h8.34M330.50 441.33v8.34M317.33 437.50h8.34M321.50 433.33v8.34M309.33 437.50h8.34M313.50 433.33v8.34M345.33 444.50h8.34M349.50 440.33v8.34M309.33 441.50h8.34M313.50 437.33v8.34M344.33 441.50h8.34M348.50 437.33v8.34M330.33 441.50h8.34M334.50 437.33v8.34M297.33 436.50h8.34M301.50 432.33v8.34M331.33 438.50h8.34M335.50 434.33v8.34M359.33 438.50h8.34M363.50 434.33v8.34M365.33 438.50h8.34M369.50 434.33v8.34M302.33 444.50h8.34M306.50 440.33v8.34M305.33 445.50h8.34M309.50 441.33v8.34M309.33 444.50h8.34M313.50 440.33v8.34M313.33 445.50h8.34M317.50 441.33v8.34M329.33 443.50h8.34M333.50 439.33v8.34M331.33 445.50h8.34M335.50 441.33v8.34M335.33 444.50h8.34M339.50 440.33v8.34M338.33 445.50h8.34M342.50 441.33v8.34M341.33 444.50h8.34M345.50 440.33v8.34M345.33 444.50h8.34M349.50 440.33v8.34M348.33 444.50h8.34M352.50 440.33v8.34M351.33 445.50h8.34M355.50 441.33v8.34M354.33 444.50h8.34M358.50 440.33v8.34M357.33 444.50h8.34M361.50 440.33v8.34M368.33 444.50h8.34M372.50 440.33v8.34M371.33 445.50h8.34M375.50 441.33v8.34M374.33 444.50h8.34M378.50 440.33v8.34M377.33 445.50h8.34M381.50 441.33v8.34" stroke="#00bfbf" stroke-width="0.75" fill="none"/>
<path d="M267.33 421.33l8.34 8.34M267.33 429.67l8.34 -8.34M276.33 422.33l8.34 8.34M276.33 430.67l8.34 -8.34M301.33 419.33l8.34 8.34M301.33 427.67l8.34 -8.34M293.33 427.33l8.34 8.34M293.33 435.67l8.34 -8.34M295.33 434.33l8.34 8.34M295.33 442.67l8.34 -8.34M302.33 426.33l8.34 8.34M302.33 434.67l8.34 -8.34M306.33 427.33l8.34 8.34M306.33 435.67l8.34 -8.34M307.33 430.33l8.34 8.34M307.33 438.67l8.34 -8.34M310.33 432.33l8.34 8.34M310.33 440.67l8.34 -8.34M323.33 421.33l8.34 8.34M323.33 429.67l8.34 -8.34M327.33 427.33l8.34 8.34M327.33 435.67l8.34 -8.34M321.33 433.33l8.34 8.34M321.33 441.67l8.34 -8.34M317.33 436.33l8.34 8.34M317.33 444.67l8.34 -8.34M334.33 421.33l8.34 8.34M334.33 429.67l8.34 -8.34M338.33 420.33l8.34 8.34M338.33 428.67l8.34 -8.34M346.33 420.33l8.34 8.34M346.33 428.67l8.34 -8.34M353.33 421.33l8.34 8.34M353.33 429.67l8.34 -8.34M355.33 423.33l8.34 8.34M355.33 431.67l8.34 -8.34M360.33 421.33l8.34 8.34M360.33 429.67l8.34 -8.34M355.33 428.33l8.34 8.34M355.33 436.67l8.34 -8.34M370.33 428.33l8.34 8.34M370.33 436.67l8.34 -8.34M376.33 419.33l8.34 8.34M376.33 427.67l8.34 -8.34M385.33 427.33l8.34 8.34M385.33 435.67l8.34 -8.34M401.33 420.33l8.34 8.34M401.33 428.67l8.34 -8.34M399.33 421.33l8.34 8.34M399.33 429.67l8.34 -8.34M404.33 422.33l8.34 8.34M404.33 430.67l8.34 -8.34M414.33 419.33l8.34 8.34M414.33 427.67l8.34 -8.34M416.33 421.33l8.34 8.34M416.33 429.67l8.34 -8.34M422.33 428.33l8.34 8.34M422.33 436.67l8.34 -8.34M411.33 428.33l8.34 8.34M411.33 436.67l8.34 -8.34M402.33 428.33l8.34 8.34M402.33 436.67l8.34 -8.34M380.33 286.33l8.34 8.34M380.33 294.67l8.34 -8.34M421.33 255.33l8.34 8.34M421.33 263.67l8.34 -8.34M415.33 260.33l8.34 8.34M415.33 268.67l8.34 -8.34M419.33 282.33l8.34 8.34M419.33 290.67l8.34 -8.34M406.33 307.33l8.34 8.34M406.33 315.67l8.34 -8.34M422.33 327.33l8.34 8.34M422.33 335.67l8.34 -8.34M421.33 433.33l8.34 8.34M421.33 441.67l8.34 -8.34M401.33 437.33l8.34 8.34M401.33 445.67l8.34 -8.34M413.33 439.33l8.34 8.34M413.33 447.67l8.34 -8.34M395.33 441.33l8.34 8.34M395.33 449.67l8.34 -8.34M388.33 434.33l8.34 8.34M388.33 442.67l8.34 -8.34M417.33 434.33l8.34 8.34M417.33 442.67l8.34 -8.34M388.33 437.33l8.34 8.34M388.33 445.67l8.34 -8.34M395.33 434.33l8.34 8.34M395.33 442.67l8.34 -8.34M422.33 437.33l8.34 8.34M422.33 445.67l8.34 -8.34M416.33 435.33l8.34 8.34M416.33 443.67l8.34 -8.34M421.33 435.33l8.34 8.34M421.33 443.67l8.34 -8.34M421.33 438.33l8.34 8.34M421.33 446.67l8.34 -8.34M424.33 440.33l8.34 8.34M424.33 448.67l8.34 -8.34M409.33 438.33l8.34 8.34M409.33 446.67l8.34 -8.34M419.33 437.33l8.34 8.34M419.33 445.67l8.34 -8.34M384.33 441.33l8.34 8.34M384.33 449.67l8.34 -8.34M417.33 439.33l8.34 8.34M417.33 447.67l8.34 -8.34M414.33 435.33l8.34 8.34M414.33 443.67l8.34 -8.34M401.33 440.33l8.34 8.34M401.33 448.67l8.34 -8.34M424.33 441.33l8.34 8.34M424.33 449.67l8.34 -8.34M387.33 439.33l8.34 8.34M387.33 447.67l8.34 -8.34M405.33 436.33l8.34 8.34M405.33 444.67l8.34 -8.34M387.33 434.33l8.34 8.34M387.33 442.67l8.34 -8.34M401.33 437.33l8.34 8.34M401.33 445.67l8.34 -8.34M392.33 436.33l8.34 8.34M392.33 444.67l8.34 -8.34M405.33 439.33l8.34 8.34M405.33 447.67l8.34 -8.34M407.33 434.33l8.34 8.34M407.33 442.67l8.34 -8.34M420.33 436.33l8.34 8.34M420.33 444.67l8.34 -8.34M424.33 441.33l8.34 8.34M424.33 449.67l8.34 -8.34M386.33 438.33l8.34 8.34M386.33 446.67l8.34 -8.34M424.33 436.33l8.34 8.34M424.33 444.67l8.34 -8.34M405.33 436.33l8.34 8.34M405.33 444.67l8.34 -8.34M381.33 435.33l8.34 8.34M381.33 443.67l8.34 -8.34M385.33 435.33l8.34 8.34M385.33 443.67l8.34 -8.34M408.33 438.33l8.34 8.34M408.33 446.67l8.34 -8.34M423.33 439.33l8.34 8.34M423.33 447.67l8.34 -8.34M396.33 441.33l8.34 8.34M396.33 449.67l8.34 -8.34M409.33 438.33l8.34 8.34M409.33 446.67l8.34 -8.34M419.33 439.33l8.34 8.34M419.33 447.67l8.34 -8.34M396.33 438.33l8.34 8.34M396.33 446.67l8.34 -8.34M321.33 441.33l8.34 8.34M321.33 449.67l8.34 -8.34M316.33 441.33l8.34 8.34M316.33 449.67l8.34 -8.34M301.33 432.33l8.34 8.34M301.33 440.67l8.34 -8.34M342.33 434.33l8.34 8.34M342.33 442.67l8.34 -8.34M338.33 433.33l8.34 8.34M338.33 441.67l8.34 -8.34M366.33 438.33l8.34 8.34M366.33 446.67l8.34 -8.34M353.33 441.33l8.34 8.34M353.33 449.67l8.34 -8.34M379.33 438.33l8.34 8.34M379.33 446.67l8.34 -8.34M355.33 432.33l8.34 8.34M355.33 440.67l8.34 -8.34M300.33 436.33l8.34 8.34M300.33 444.67l8.34 -8.34M377.33 435.33l8.34 8.34M377.33 443.67l8.34 -8.34M343.33 432.33l8.34 8.34M343.33 440.67l8.34 -8.34M330.33 441.33l8.34 8.34M330.33 449.67l8.34 -8.34M345.33 440.33l8.34 8.34M345.33 448.67l8.34 -8.34M297.33 434.33l8.34 8.34M297.33 442.67l8.34 -8.34M311.33 440.33l8.34 8.34M311.33 448.67l8.34 -8.34M304.33 441.33l8.34 8.34M304.33 449.67l8.34 -8.34M318.33 440.33l8.34 8.34M318.33 448.67l8.34 -8.34M339.33 435.33l8.34 8.34M339.33 443.67l8.34 -8.34M377.33 436.33l8.34 8.34M377.33 444.67l8.34 -8.34M354.33 432.33l8.34 8.34M354.33 440.67l8.34 -8.34M365.33 441.33l8.34 8.34M365.33 449.67l8.34 -8.34M305.33 439.33l8.34 8.34M305.33 447.67l8.34 -8.34M318.33 433.33l8.34 8.34M318.33 441.67l8.34 -8.34M326.33 438.33l8.34 8.34M326.33 446.67l8.34 -8.34M376.33 441.33l8.34 8.34M376.33 449.67l8.34 -8.34M379.33 438.33l8.34 8.34M379.33 446.67l8.34 -8.34M350.33 433.33l8.34 8.34M350.33 441.67l8.34 -8.34M356.33 437.33l8.34 8.34M356.33 445.67l8.34 -8.34M326.33 441.33l8.34 8.34M326.33 449.67l8.34 -8.34M317.33 433.33l8.34 8.34M317.33 441.67l8.34 -8.34M309.33 433.33l8.34 8.34M309.33 441.67l8.34 -8.34M345.33 440.33l8.34 8.34M345.33 448.67l8.34 -8.34M309.33 437.33l8.34 8.34M309.33 445.67l8.34 -8.34M344.33 437.33l8.34 8.34M344.33 445.67l8.34 -8.34M330.33 437.33l8.34 8.34M330.33 445.67l8.34 -8.34M297.33 432.33l8.34 8.34M297.33 440.67l8.34 -8.34M331.33 434.33l8.34 8.34M331.33 442.67l8.34 -8.34M359.33 434.33l8.34 8.34M359.33 442.67l8.34 -8.34M365.33 434.33l8.34 8.34M365.33 442.67l8.34 -8.34M302.33 440.33l8.34 8.34M302.33 448.67l8.34 -8.34M305.33 441.33l8.34 8.34M305.33 449.67l8.34 -8.34M309.33 440.33l8.34 8.34M309.33 448.67l8.34 -8.34M313.33 441.33l8.34 8.34M313.33 449.67l8.34 -8.34M329.33 439.33l8.34 8.34M329.33 447.67l8.34 -8.34M331.33 441.33l8.34 8.34M331.33 449.67l8.34 -8.34M335.33 440.33l8.34 8.34M335.33 448.67l8.34 -8.34M338.33 441.33l8.34 8.34M338.33 449.67l8.34 -8.34M341.33 440.33l8.34 8.34M341.33 448.67l8.34 -8.34M345.33 440.33l8.34 8.34M345.33 448.67l8.34 -8.34M348.33 440.33l8.34 8.34M348.33 448.67l8.34 -8.34M351.33 441.33l8.34 8.34M351.33 449.67l8.34 -8.34M354.33 440.33l8.34 8.34M354.33 448.67l8.34 -8.34M357.33 440.33l8.34 8.34M357.33 448.67l8.34 -8.34M368.33 440.33l8.34 8.34M368.33 448.67l8.34 -8.34M371.33 441.33l8.34 8.34M371.33 449.67l8.34 -8.34M374.33 440.33l8.34 8.34M374.33 448.67l8.34 -8.34M377.33 441.33l8.34 8.34M377.33 449.67l8.34 -8.34" stroke="#0000ff" stroke-width="0.95" fill="none"/>
<g fill="#000"><circle cx="306.50" cy="444.50" r="4.5"/><circle cx="309.50" cy="445.00" r="4.5"/><circle cx="313.50" cy="444.50" r="4.5"/><circle cx="317.50" cy="445.50" r="4.5"/><circle cx="333.00" cy="443.50" r="4.5"/><circle cx="335.50" cy="445.50" r="4.5"/><circle cx="339.00" cy="444.00" r="4.5"/><circle cx="342.50" cy="445.00" r="4.5"/><circle cx="345.00" cy="444.50" r="4.5"/><circle cx="349.50" cy="444.50" r="4.5"/><circle cx="352.00" cy="444.00" r="4.5"/><circle cx="355.00" cy="445.00" r="4.5"/><circle cx="358.00" cy="444.50" r="4.5"/><circle cx="361.50" cy="444.50" r="4.5"/><circle cx="372.00" cy="444.50" r="4.5"/><circle cx="375.00" cy="445.00" r="4.5"/><circle cx="378.50" cy="444.50" r="4.5"/><circle cx="381.00" cy="445.00" r="4.5"/></g>
<path d="M100.4 444.5H725" stroke="#0000ff" stroke-width="1.3" stroke-dasharray="8.33 8.33" fill="none"/>
</g>
<path d="M100.5 540.5V534.3M183.5 540.5V534.3M265.5 540.5V534.3M348.5 540.5V534.3M431.5 540.5V534.3M513.5 540.5V534.3M596.5 540.5V534.3M679.5 540.5V534.3M131.5 60.5V66.7M214.5 60.5V66.7M296.5 60.5V66.7M379.5 60.5V66.7M462.5 60.5V66.7M544.5 60.5V66.7M627.5 60.5V66.7M710.5 60.5V66.7M100.5 540.5H106.7M720.5 540.5H714.3M100.5 420.5H106.7M720.5 420.5H714.3M100.5 300.5H106.7M720.5 300.5H714.3M100.5 180.5H106.7M720.5 180.5H714.3M100.5 60.5H106.7M720.5 60.5H714.3" stroke="#000" stroke-width="0.7" fill="none"/>
<path d="M100.5 60.5H720.5V540.5H100.5Z" fill="none" stroke="#000" stroke-width="1.4"/>
<text x="83.00" y="559.50" font-size="18.42" textLength="34.13" lengthAdjust="spacingAndGlyphs">−20</text>
<text x="166.00" y="559.50" font-size="18.42" textLength="34.13" lengthAdjust="spacingAndGlyphs">−18</text>
<text x="249.00" y="559.50" font-size="18.42" textLength="34.13" lengthAdjust="spacingAndGlyphs">−16</text>
<text x="331.50" y="559.50" font-size="18.42" textLength="33.03" lengthAdjust="spacingAndGlyphs">−14</text>
<text x="414.00" y="559.50" font-size="18.42" textLength="34.13" lengthAdjust="spacingAndGlyphs">−12</text>
<text x="497.00" y="559.50" font-size="18.42" textLength="34.13" lengthAdjust="spacingAndGlyphs">−10</text>
<text x="585.00" y="559.50" font-size="18.42" textLength="23.21" lengthAdjust="spacingAndGlyphs">−8</text>
<text x="667.00" y="559.50" font-size="18.42" textLength="24.20" lengthAdjust="spacingAndGlyphs">−6</text>
<text x="84.50" y="544.50" font-size="18.42" textLength="10.41" lengthAdjust="spacingAndGlyphs">0</text>
<text x="84.50" y="424.50" font-size="18.42" textLength="9.48" lengthAdjust="spacingAndGlyphs">5</text>
<text x="74.50" y="304.50" font-size="18.42" textLength="18.32" lengthAdjust="spacingAndGlyphs">10</text>
<text x="74.50" y="184.50" font-size="18.42" textLength="18.32" lengthAdjust="spacingAndGlyphs">15</text>
<text x="74.00" y="64.50" font-size="18.42" textLength="20.25" lengthAdjust="spacingAndGlyphs">20</text>
<text x="122.00" y="49.50" font-size="18.42" textLength="20.31" lengthAdjust="spacingAndGlyphs">14</text>
<text x="204.50" y="49.50" font-size="18.42" textLength="18.32" lengthAdjust="spacingAndGlyphs">16</text>
<text x="287.50" y="49.50" font-size="18.42" textLength="18.32" lengthAdjust="spacingAndGlyphs">18</text>
<text x="369.00" y="49.50" font-size="18.42" textLength="20.25" lengthAdjust="spacingAndGlyphs">20</text>
<text x="451.00" y="49.50" font-size="18.42" textLength="20.25" lengthAdjust="spacingAndGlyphs">22</text>
<text x="534.50" y="49.50" font-size="18.42" textLength="20.06" lengthAdjust="spacingAndGlyphs">24</text>
<text x="617.00" y="49.50" font-size="18.42" textLength="20.25" lengthAdjust="spacingAndGlyphs">26</text>
<text x="699.00" y="49.50" font-size="18.42" textLength="20.25" lengthAdjust="spacingAndGlyphs">28</text>
<text x="264.00" y="583.00" font-size="18.31" textLength="292.01" lengthAdjust="spacingAndGlyphs">magnitude (bottom:isnt / top:calib)</text>
<text transform="translate(64.20 348.00) rotate(-90)" font-size="18.19" textLength="96.60" lengthAdjust="spacingAndGlyphs">FWHM (pix)</text>
<text x="301.60" y="28.10" font-size="19.07" textLength="217.93" lengthAdjust="spacingAndGlyphs">FWHM vs magnitudes</text>
<rect x="398.5" y="70.5" width="312" height="122" fill="#fff" stroke="#000" stroke-width="1.3"/>
<path d="M408.33 86.50h8.34M412.50 82.33v8.34M436.33 86.50h8.34M440.50 82.33v8.34" stroke="#00bfbf" stroke-width="0.75" fill="none"/>
<path d="M408.33 111.33l8.34 8.34M408.33 119.67l8.34 -8.34M436.33 111.33l8.34 8.34M436.33 119.67l8.34 -8.34" stroke="#0000ff" stroke-width="0.95" fill="none"/>
<circle cx="412.5" cy="144.5" r="4.5" fill="#000"/><circle cx="440.5" cy="144.5" r="4.5" fill="#000"/>
<path d="M412.5 173.5H438" stroke="#0000ff" stroke-width="1.3" stroke-dasharray="8.5 8.2" fill="none"/>
<text x="461.90" y="93.00" font-size="20.00" textLength="103.06" lengthAdjust="spacingAndGlyphs">all sample</text>
<text x="461.40" y="122.00" font-size="20.00" textLength="242.04" lengthAdjust="spacingAndGlyphs">sample for rough FWHM</text>
<text x="461.90" y="151.00" font-size="20.00" textLength="230.02" lengthAdjust="spacingAndGlyphs">coarse PSF-like sample</text>
<text x="461.90" y="180.00" font-size="20.00" textLength="161.03" lengthAdjust="spacingAndGlyphs">tentative FWHM</text>
</svg>
</body></html>
